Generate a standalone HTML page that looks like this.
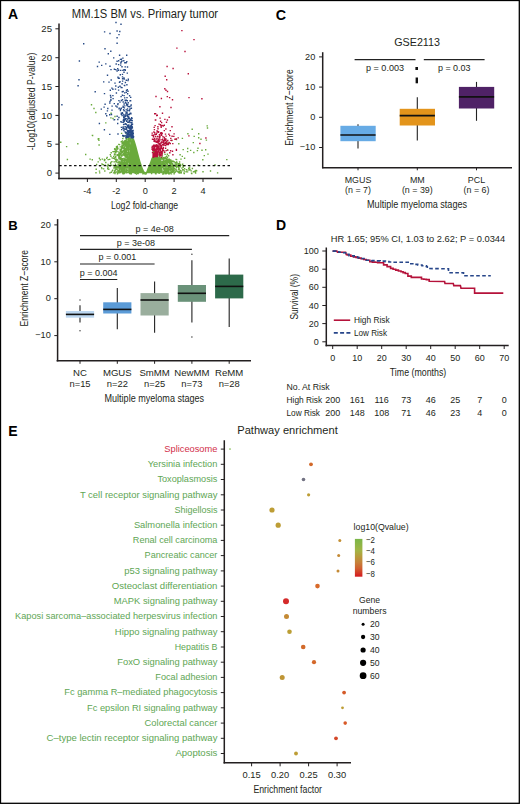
<!DOCTYPE html>
<html><head><meta charset="utf-8"><style>
html,body{margin:0;padding:0;background:#fff;}
#fig{position:relative;width:520px;height:804px;overflow:hidden;background:#fff;}
svg{display:block;font-family:"Liberation Sans", sans-serif;}
</style></head><body><div id="fig">
<svg width="520" height="804" viewBox="0 0 520 804" fill="#231f20">
<rect x="0.5" y="0.5" width="518.8" height="802.8" fill="none" stroke="#000" stroke-width="1.3"/>
<text x="7.9" y="19.4" font-size="14" fill="#000" font-weight="bold">A</text>
<text x="71.8" y="17.7" font-size="12" textLength="146.3" lengthAdjust="spacingAndGlyphs">MM.1S BM vs. Primary tumor</text>
<g id="volc">
<polygon fill="#6aaa3c" points="132.7,137.7 134.3,139.5 135.6,143.5 136.6,147 138.5,154.2 140.4,161.2 142.7,168.1 144.2,171.2 145.3,172.3 146.4,171.5 147.3,168.8 149.6,163.5 151.5,158.1 152.3,157.0 158,156.9 161,157.4 162,164 163,173.2 128,173.2 128.5,160 129.5,148 130.8,141"/>
<polygon fill="#b80f3a" points="152.3,157.2 152.5,153 153.2,151 155,150.2 157.5,150.5 158.5,153 158.2,157.2"/>
<path fill="#6aaa3c" d="M129.0 137.6h1.4v1.4h-1.4zM123.4 147.5h1.4v1.4h-1.4zM166.4 142.3h1.4v1.4h-1.4zM170.4 159.7h1.4v1.4h-1.4zM131.2 133.5h1.4v1.4h-1.4zM120.6 166.1h1.4v1.4h-1.4zM129.8 140.7h1.4v1.4h-1.4zM175.4 164.9h1.4v1.4h-1.4zM124.6 141.4h1.4v1.4h-1.4zM119.9 148.9h1.4v1.4h-1.4zM165.6 169.3h1.4v1.4h-1.4zM161.6 164.2h1.4v1.4h-1.4zM126.3 163.2h1.4v1.4h-1.4zM117.8 171.9h1.4v1.4h-1.4zM165.7 168.8h1.4v1.4h-1.4zM119.1 162.5h1.4v1.4h-1.4zM113.0 155.7h1.4v1.4h-1.4zM125.9 137.2h1.4v1.4h-1.4zM120.0 158.9h1.4v1.4h-1.4zM163.6 168.6h1.4v1.4h-1.4zM122.4 171.9h1.4v1.4h-1.4zM114.8 156.5h1.4v1.4h-1.4zM125.8 150.6h1.4v1.4h-1.4zM174.2 168.4h1.4v1.4h-1.4zM124.9 171.3h1.4v1.4h-1.4zM177.1 171.1h1.4v1.4h-1.4zM130.1 138.4h1.4v1.4h-1.4zM121.7 171.5h1.4v1.4h-1.4zM120.3 161.4h1.4v1.4h-1.4zM167.8 158.7h1.4v1.4h-1.4zM126.7 171.3h1.4v1.4h-1.4zM161.1 158.2h1.4v1.4h-1.4zM122.1 165.6h1.4v1.4h-1.4zM120.8 154.6h1.4v1.4h-1.4zM173.8 171.8h1.4v1.4h-1.4zM129.6 141.3h1.4v1.4h-1.4zM172.2 160.4h1.4v1.4h-1.4zM113.2 157.5h1.4v1.4h-1.4zM172.7 166.0h1.4v1.4h-1.4zM123.1 161.4h1.4v1.4h-1.4zM190.8 172.4h1.4v1.4h-1.4zM95.5 168.6h1.4v1.4h-1.4zM182.4 166.7h1.4v1.4h-1.4zM124.8 154.3h1.4v1.4h-1.4zM121.0 147.1h1.4v1.4h-1.4zM125.9 151.4h1.4v1.4h-1.4zM120.6 141.1h1.4v1.4h-1.4zM162.6 159.2h1.4v1.4h-1.4zM179.5 170.4h1.4v1.4h-1.4zM124.6 166.1h1.4v1.4h-1.4zM125.5 155.9h1.4v1.4h-1.4zM167.4 159.9h1.4v1.4h-1.4zM125.9 149.0h1.4v1.4h-1.4zM117.5 162.1h1.4v1.4h-1.4zM171.9 161.1h1.4v1.4h-1.4zM175.0 165.6h1.4v1.4h-1.4zM127.2 161.9h1.4v1.4h-1.4zM126.8 149.3h1.4v1.4h-1.4zM168.2 168.9h1.4v1.4h-1.4zM121.9 167.0h1.4v1.4h-1.4zM179.8 169.7h1.4v1.4h-1.4zM120.2 164.0h1.4v1.4h-1.4zM125.4 156.1h1.4v1.4h-1.4zM120.9 148.6h1.4v1.4h-1.4zM121.5 166.6h1.4v1.4h-1.4zM131.4 137.2h1.4v1.4h-1.4zM169.7 161.0h1.4v1.4h-1.4zM118.6 165.6h1.4v1.4h-1.4zM123.8 144.1h1.4v1.4h-1.4zM124.0 141.5h1.4v1.4h-1.4zM160.6 157.0h1.4v1.4h-1.4zM127.1 141.5h1.4v1.4h-1.4zM123.5 172.8h1.4v1.4h-1.4zM170.2 167.0h1.4v1.4h-1.4zM101.2 167.9h1.4v1.4h-1.4zM120.8 158.5h1.4v1.4h-1.4zM169.7 165.2h1.4v1.4h-1.4zM165.5 171.6h1.4v1.4h-1.4zM168.3 171.6h1.4v1.4h-1.4zM131.4 137.8h1.4v1.4h-1.4zM115.3 150.3h1.4v1.4h-1.4zM121.4 163.7h1.4v1.4h-1.4zM127.2 140.8h1.4v1.4h-1.4zM126.0 147.3h1.4v1.4h-1.4zM127.1 158.1h1.4v1.4h-1.4zM101.3 163.3h1.4v1.4h-1.4zM182.4 165.1h1.4v1.4h-1.4zM171.8 170.6h1.4v1.4h-1.4zM129.4 139.1h1.4v1.4h-1.4zM128.4 146.8h1.4v1.4h-1.4zM171.9 165.7h1.4v1.4h-1.4zM110.2 161.7h1.4v1.4h-1.4zM125.5 145.7h1.4v1.4h-1.4zM102.6 163.9h1.4v1.4h-1.4zM116.7 146.9h1.4v1.4h-1.4zM170.9 167.9h1.4v1.4h-1.4zM179.3 166.0h1.4v1.4h-1.4zM124.2 160.2h1.4v1.4h-1.4zM123.0 164.7h1.4v1.4h-1.4zM165.1 172.8h1.4v1.4h-1.4zM122.2 142.1h1.4v1.4h-1.4zM114.1 148.1h1.4v1.4h-1.4zM168.3 167.6h1.4v1.4h-1.4zM173.5 170.1h1.4v1.4h-1.4zM119.5 150.8h1.4v1.4h-1.4zM129.7 135.2h1.4v1.4h-1.4zM175.7 163.8h1.4v1.4h-1.4zM123.1 145.2h1.4v1.4h-1.4zM99.0 172.2h1.4v1.4h-1.4zM116.0 149.4h1.4v1.4h-1.4zM119.2 157.0h1.4v1.4h-1.4zM120.7 169.5h1.4v1.4h-1.4zM116.8 146.9h1.4v1.4h-1.4zM117.4 166.3h1.4v1.4h-1.4zM173.0 167.4h1.4v1.4h-1.4zM124.9 148.4h1.4v1.4h-1.4zM164.9 170.1h1.4v1.4h-1.4zM161.4 163.6h1.4v1.4h-1.4zM122.0 142.3h1.4v1.4h-1.4zM119.3 167.4h1.4v1.4h-1.4zM126.2 167.7h1.4v1.4h-1.4zM121.9 164.7h1.4v1.4h-1.4zM124.7 141.1h1.4v1.4h-1.4zM114.8 154.2h1.4v1.4h-1.4zM163.7 160.2h1.4v1.4h-1.4zM124.5 168.7h1.4v1.4h-1.4zM131.8 137.2h1.4v1.4h-1.4zM125.5 171.7h1.4v1.4h-1.4zM121.5 160.7h1.4v1.4h-1.4zM176.5 165.2h1.4v1.4h-1.4zM169.3 168.8h1.4v1.4h-1.4zM154.8 172.8h1.4v1.4h-1.4zM166.1 155.5h1.4v1.4h-1.4zM124.4 154.2h1.4v1.4h-1.4zM177.9 162.9h1.4v1.4h-1.4zM119.9 163.7h1.4v1.4h-1.4zM177.7 169.2h1.4v1.4h-1.4zM168.4 165.9h1.4v1.4h-1.4zM161.5 165.2h1.4v1.4h-1.4zM129.7 172.7h1.4v1.4h-1.4zM111.2 160.9h1.4v1.4h-1.4zM120.5 146.2h1.4v1.4h-1.4zM165.9 158.0h1.4v1.4h-1.4zM117.2 170.4h1.4v1.4h-1.4zM161.7 165.8h1.4v1.4h-1.4zM124.3 148.0h1.4v1.4h-1.4zM118.9 143.9h1.4v1.4h-1.4zM180.6 171.9h1.4v1.4h-1.4zM119.9 171.8h1.4v1.4h-1.4zM166.6 158.9h1.4v1.4h-1.4zM126.0 148.5h1.4v1.4h-1.4zM166.1 159.1h1.4v1.4h-1.4zM123.5 147.3h1.4v1.4h-1.4zM168.6 158.6h1.4v1.4h-1.4zM113.8 166.3h1.4v1.4h-1.4zM121.2 170.9h1.4v1.4h-1.4zM166.0 164.9h1.4v1.4h-1.4zM119.4 165.8h1.4v1.4h-1.4zM183.6 172.8h1.4v1.4h-1.4zM128.4 148.8h1.4v1.4h-1.4zM124.3 158.2h1.4v1.4h-1.4zM170.0 169.2h1.4v1.4h-1.4zM127.2 159.1h1.4v1.4h-1.4zM117.5 172.1h1.4v1.4h-1.4zM110.6 171.5h1.4v1.4h-1.4zM172.3 165.0h1.4v1.4h-1.4zM119.3 153.0h1.4v1.4h-1.4zM168.3 169.3h1.4v1.4h-1.4zM165.9 161.6h1.4v1.4h-1.4zM125.3 154.6h1.4v1.4h-1.4zM186.9 171.2h1.4v1.4h-1.4zM169.2 164.3h1.4v1.4h-1.4zM169.2 159.5h1.4v1.4h-1.4zM127.9 147.1h1.4v1.4h-1.4zM120.3 157.0h1.4v1.4h-1.4zM164.1 169.4h1.4v1.4h-1.4zM163.9 165.3h1.4v1.4h-1.4zM103.7 159.8h1.4v1.4h-1.4zM118.4 165.5h1.4v1.4h-1.4zM130.7 138.2h1.4v1.4h-1.4zM118.6 169.6h1.4v1.4h-1.4zM162.7 171.1h1.4v1.4h-1.4zM125.6 172.0h1.4v1.4h-1.4zM178.9 161.3h1.4v1.4h-1.4zM127.4 155.2h1.4v1.4h-1.4zM166.4 165.9h1.4v1.4h-1.4zM117.4 165.9h1.4v1.4h-1.4zM120.8 159.5h1.4v1.4h-1.4zM124.5 170.5h1.4v1.4h-1.4zM164.8 172.3h1.4v1.4h-1.4zM184.2 164.9h1.4v1.4h-1.4zM166.2 172.0h1.4v1.4h-1.4zM122.2 163.6h1.4v1.4h-1.4zM124.2 148.2h1.4v1.4h-1.4zM126.5 146.4h1.4v1.4h-1.4zM122.9 170.0h1.4v1.4h-1.4zM150.9 172.8h1.4v1.4h-1.4zM145.4 173.0h1.4v1.4h-1.4zM121.0 166.8h1.4v1.4h-1.4zM122.9 170.2h1.4v1.4h-1.4zM118.2 160.5h1.4v1.4h-1.4zM124.5 167.5h1.4v1.4h-1.4zM178.2 171.3h1.4v1.4h-1.4zM172.4 166.7h1.4v1.4h-1.4zM175.9 158.9h1.4v1.4h-1.4zM130.8 136.7h1.4v1.4h-1.4zM123.8 164.5h1.4v1.4h-1.4zM122.6 135.9h1.4v1.4h-1.4zM165.9 161.1h1.4v1.4h-1.4zM122.5 152.2h1.4v1.4h-1.4zM125.5 142.8h1.4v1.4h-1.4zM119.6 165.5h1.4v1.4h-1.4zM121.0 164.4h1.4v1.4h-1.4zM127.4 146.8h1.4v1.4h-1.4zM126.0 142.5h1.4v1.4h-1.4zM100.9 166.9h1.4v1.4h-1.4zM164.1 164.0h1.4v1.4h-1.4zM167.8 170.0h1.4v1.4h-1.4zM126.3 151.9h1.4v1.4h-1.4zM168.9 173.2h1.4v1.4h-1.4zM130.6 131.8h1.4v1.4h-1.4zM165.9 155.7h1.4v1.4h-1.4zM118.2 155.5h1.4v1.4h-1.4zM125.0 163.3h1.4v1.4h-1.4zM163.1 173.0h1.4v1.4h-1.4zM116.9 147.3h1.4v1.4h-1.4zM118.2 153.0h1.4v1.4h-1.4zM123.0 163.7h1.4v1.4h-1.4zM123.1 162.3h1.4v1.4h-1.4zM129.2 143.2h1.4v1.4h-1.4zM163.2 167.5h1.4v1.4h-1.4zM173.6 167.9h1.4v1.4h-1.4zM164.6 168.7h1.4v1.4h-1.4zM127.8 152.0h1.4v1.4h-1.4zM122.7 150.0h1.4v1.4h-1.4zM115.8 166.7h1.4v1.4h-1.4zM164.1 165.5h1.4v1.4h-1.4zM136.7 172.7h1.4v1.4h-1.4zM127.7 140.0h1.4v1.4h-1.4zM114.1 151.1h1.4v1.4h-1.4zM167.6 161.9h1.4v1.4h-1.4zM127.1 145.7h1.4v1.4h-1.4zM121.4 168.4h1.4v1.4h-1.4zM123.3 162.8h1.4v1.4h-1.4zM128.6 139.6h1.4v1.4h-1.4zM121.7 140.2h1.4v1.4h-1.4zM118.6 155.6h1.4v1.4h-1.4zM126.3 153.4h1.4v1.4h-1.4zM143.3 172.6h1.4v1.4h-1.4zM107.9 164.7h1.4v1.4h-1.4zM171.1 167.5h1.4v1.4h-1.4zM125.8 154.2h1.4v1.4h-1.4zM167.2 165.5h1.4v1.4h-1.4zM126.5 157.3h1.4v1.4h-1.4zM122.2 164.2h1.4v1.4h-1.4zM179.4 154.1h1.4v1.4h-1.4zM124.4 143.1h1.4v1.4h-1.4zM128.1 137.3h1.4v1.4h-1.4zM121.9 168.5h1.4v1.4h-1.4zM181.0 170.4h1.4v1.4h-1.4zM122.5 171.6h1.4v1.4h-1.4zM120.1 150.1h1.4v1.4h-1.4zM125.6 162.2h1.4v1.4h-1.4zM120.5 154.8h1.4v1.4h-1.4zM164.7 170.5h1.4v1.4h-1.4zM177.7 166.7h1.4v1.4h-1.4zM162.1 166.9h1.4v1.4h-1.4zM166.7 149.3h1.4v1.4h-1.4zM166.2 172.5h1.4v1.4h-1.4zM129.0 144.6h1.4v1.4h-1.4zM129.6 140.7h1.4v1.4h-1.4zM125.5 156.9h1.4v1.4h-1.4zM126.9 166.9h1.4v1.4h-1.4zM172.5 170.5h1.4v1.4h-1.4zM120.5 152.7h1.4v1.4h-1.4zM125.9 154.0h1.4v1.4h-1.4zM165.8 164.3h1.4v1.4h-1.4zM116.2 147.3h1.4v1.4h-1.4zM122.5 158.2h1.4v1.4h-1.4zM166.7 153.5h1.4v1.4h-1.4zM158.6 155.7h1.4v1.4h-1.4zM123.3 169.9h1.4v1.4h-1.4zM122.2 168.8h1.4v1.4h-1.4zM126.9 166.3h1.4v1.4h-1.4zM188.2 169.3h1.4v1.4h-1.4zM114.8 168.2h1.4v1.4h-1.4zM162.6 156.9h1.4v1.4h-1.4zM118.7 164.7h1.4v1.4h-1.4zM167.8 165.8h1.4v1.4h-1.4zM131.4 137.3h1.4v1.4h-1.4zM170.4 168.1h1.4v1.4h-1.4zM123.2 165.1h1.4v1.4h-1.4zM168.6 162.4h1.4v1.4h-1.4zM122.4 153.4h1.4v1.4h-1.4zM128.1 153.7h1.4v1.4h-1.4zM124.4 150.5h1.4v1.4h-1.4zM164.3 168.1h1.4v1.4h-1.4zM113.9 148.4h1.4v1.4h-1.4zM182.5 165.3h1.4v1.4h-1.4zM127.4 167.0h1.4v1.4h-1.4zM116.0 168.9h1.4v1.4h-1.4zM124.1 169.5h1.4v1.4h-1.4zM126.2 161.2h1.4v1.4h-1.4zM164.1 162.2h1.4v1.4h-1.4zM112.3 150.9h1.4v1.4h-1.4zM119.3 165.9h1.4v1.4h-1.4zM119.6 170.4h1.4v1.4h-1.4zM165.2 160.3h1.4v1.4h-1.4zM127.8 154.1h1.4v1.4h-1.4zM119.9 171.4h1.4v1.4h-1.4zM123.1 142.8h1.4v1.4h-1.4zM125.6 165.7h1.4v1.4h-1.4zM172.2 160.3h1.4v1.4h-1.4zM127.5 146.2h1.4v1.4h-1.4zM120.5 160.5h1.4v1.4h-1.4zM105.1 161.8h1.4v1.4h-1.4zM95.9 163.8h1.4v1.4h-1.4zM125.6 153.4h1.4v1.4h-1.4zM135.8 173.3h1.4v1.4h-1.4zM111.4 157.2h1.4v1.4h-1.4zM168.8 160.2h1.4v1.4h-1.4zM163.4 172.0h1.4v1.4h-1.4zM117.7 155.0h1.4v1.4h-1.4zM130.6 173.1h1.4v1.4h-1.4zM107.0 168.1h1.4v1.4h-1.4zM168.9 162.6h1.4v1.4h-1.4zM170.5 162.7h1.4v1.4h-1.4zM179.4 169.7h1.4v1.4h-1.4zM121.4 143.3h1.4v1.4h-1.4zM162.9 160.2h1.4v1.4h-1.4zM115.7 158.6h1.4v1.4h-1.4zM121.4 170.4h1.4v1.4h-1.4zM124.7 155.6h1.4v1.4h-1.4zM127.1 161.7h1.4v1.4h-1.4zM158.3 147.6h1.4v1.4h-1.4zM157.6 146.2h1.4v1.4h-1.4zM125.7 159.8h1.4v1.4h-1.4zM162.2 158.3h1.4v1.4h-1.4zM120.3 162.4h1.4v1.4h-1.4zM165.1 160.1h1.4v1.4h-1.4zM127.1 141.9h1.4v1.4h-1.4zM179.1 171.8h1.4v1.4h-1.4zM164.8 163.8h1.4v1.4h-1.4zM126.0 145.1h1.4v1.4h-1.4zM118.7 156.4h1.4v1.4h-1.4zM182.7 165.7h1.4v1.4h-1.4zM126.9 146.1h1.4v1.4h-1.4zM123.3 166.3h1.4v1.4h-1.4zM171.5 165.8h1.4v1.4h-1.4zM126.1 168.8h1.4v1.4h-1.4zM163.5 171.0h1.4v1.4h-1.4zM114.4 158.6h1.4v1.4h-1.4zM162.8 162.6h1.4v1.4h-1.4zM120.8 169.2h1.4v1.4h-1.4zM113.9 153.2h1.4v1.4h-1.4zM163.6 157.3h1.4v1.4h-1.4zM183.9 168.1h1.4v1.4h-1.4zM123.5 146.2h1.4v1.4h-1.4zM163.4 169.7h1.4v1.4h-1.4zM119.6 146.2h1.4v1.4h-1.4zM120.3 153.6h1.4v1.4h-1.4zM163.2 157.3h1.4v1.4h-1.4zM126.1 163.3h1.4v1.4h-1.4zM118.6 156.8h1.4v1.4h-1.4zM168.9 169.0h1.4v1.4h-1.4zM173.4 172.7h1.4v1.4h-1.4zM118.6 172.1h1.4v1.4h-1.4zM123.3 166.2h1.4v1.4h-1.4zM126.5 154.0h1.4v1.4h-1.4zM117.5 163.8h1.4v1.4h-1.4zM161.5 162.4h1.4v1.4h-1.4zM116.6 159.3h1.4v1.4h-1.4zM126.3 156.7h1.4v1.4h-1.4zM171.4 168.5h1.4v1.4h-1.4zM114.8 171.4h1.4v1.4h-1.4zM168.2 170.1h1.4v1.4h-1.4zM123.5 160.4h1.4v1.4h-1.4zM123.4 169.6h1.4v1.4h-1.4zM125.7 139.4h1.4v1.4h-1.4zM126.9 171.5h1.4v1.4h-1.4zM122.0 168.0h1.4v1.4h-1.4zM122.8 170.6h1.4v1.4h-1.4zM123.1 143.8h1.4v1.4h-1.4zM170.8 168.9h1.4v1.4h-1.4zM121.1 168.7h1.4v1.4h-1.4zM113.9 157.2h1.4v1.4h-1.4zM169.3 162.2h1.4v1.4h-1.4zM167.9 173.2h1.4v1.4h-1.4zM123.7 147.9h1.4v1.4h-1.4zM127.2 155.7h1.4v1.4h-1.4zM128.6 146.1h1.4v1.4h-1.4zM121.8 165.3h1.4v1.4h-1.4zM125.4 162.4h1.4v1.4h-1.4zM113.6 151.1h1.4v1.4h-1.4zM177.2 164.2h1.4v1.4h-1.4zM170.9 165.2h1.4v1.4h-1.4zM162.3 165.4h1.4v1.4h-1.4zM173.0 164.4h1.4v1.4h-1.4zM117.9 163.7h1.4v1.4h-1.4zM122.2 143.4h1.4v1.4h-1.4zM98.7 157.5h1.4v1.4h-1.4zM121.9 172.4h1.4v1.4h-1.4zM116.8 147.5h1.4v1.4h-1.4zM161.1 157.3h1.4v1.4h-1.4zM107.5 158.9h1.4v1.4h-1.4zM103.0 168.2h1.4v1.4h-1.4zM168.1 172.2h1.4v1.4h-1.4zM164.6 172.0h1.4v1.4h-1.4zM125.6 159.2h1.4v1.4h-1.4zM117.1 166.7h1.4v1.4h-1.4zM122.0 163.0h1.4v1.4h-1.4zM122.7 164.9h1.4v1.4h-1.4zM119.4 161.7h1.4v1.4h-1.4zM120.0 164.7h1.4v1.4h-1.4zM124.5 154.9h1.4v1.4h-1.4zM121.2 168.9h1.4v1.4h-1.4zM120.9 151.8h1.4v1.4h-1.4zM125.6 151.6h1.4v1.4h-1.4zM161.6 164.8h1.4v1.4h-1.4zM119.6 163.7h1.4v1.4h-1.4zM121.6 141.8h1.4v1.4h-1.4zM126.0 148.8h1.4v1.4h-1.4zM128.6 148.8h1.4v1.4h-1.4zM183.6 170.3h1.4v1.4h-1.4zM115.1 148.8h1.4v1.4h-1.4zM163.8 164.6h1.4v1.4h-1.4zM117.2 150.9h1.4v1.4h-1.4zM121.5 145.9h1.4v1.4h-1.4zM122.2 168.9h1.4v1.4h-1.4zM175.7 167.0h1.4v1.4h-1.4zM154.8 172.9h1.4v1.4h-1.4zM166.3 171.1h1.4v1.4h-1.4zM162.0 160.7h1.4v1.4h-1.4zM123.9 150.4h1.4v1.4h-1.4zM129.0 145.9h1.4v1.4h-1.4zM114.3 149.2h1.4v1.4h-1.4zM121.7 150.8h1.4v1.4h-1.4zM166.4 161.0h1.4v1.4h-1.4zM123.3 150.6h1.4v1.4h-1.4zM168.7 161.1h1.4v1.4h-1.4zM168.1 169.5h1.4v1.4h-1.4zM168.3 160.2h1.4v1.4h-1.4zM130.3 139.4h1.4v1.4h-1.4zM162.1 158.1h1.4v1.4h-1.4zM163.3 171.7h1.4v1.4h-1.4zM172.1 170.2h1.4v1.4h-1.4zM117.0 168.3h1.4v1.4h-1.4zM127.3 135.3h1.4v1.4h-1.4zM165.2 167.8h1.4v1.4h-1.4zM165.3 173.0h1.4v1.4h-1.4zM104.1 170.3h1.4v1.4h-1.4zM163.6 165.3h1.4v1.4h-1.4zM170.4 170.5h1.4v1.4h-1.4zM115.3 151.2h1.4v1.4h-1.4zM173.4 173.1h1.4v1.4h-1.4zM124.8 159.2h1.4v1.4h-1.4zM113.4 161.2h1.4v1.4h-1.4zM121.8 151.6h1.4v1.4h-1.4zM124.5 150.8h1.4v1.4h-1.4zM161.6 155.2h1.4v1.4h-1.4zM123.9 172.0h1.4v1.4h-1.4zM186.3 169.4h1.4v1.4h-1.4zM128.7 139.4h1.4v1.4h-1.4zM162.8 171.0h1.4v1.4h-1.4zM114.9 164.8h1.4v1.4h-1.4zM115.2 159.4h1.4v1.4h-1.4zM126.3 160.4h1.4v1.4h-1.4zM167.5 167.0h1.4v1.4h-1.4zM171.9 163.1h1.4v1.4h-1.4zM98.8 170.4h1.4v1.4h-1.4zM129.4 141.1h1.4v1.4h-1.4zM126.2 164.8h1.4v1.4h-1.4zM164.7 158.0h1.4v1.4h-1.4zM126.7 145.8h1.4v1.4h-1.4zM169.2 164.8h1.4v1.4h-1.4zM175.4 162.2h1.4v1.4h-1.4zM115.5 167.9h1.4v1.4h-1.4zM123.5 154.7h1.4v1.4h-1.4zM124.4 140.0h1.4v1.4h-1.4zM125.0 149.8h1.4v1.4h-1.4zM125.8 155.7h1.4v1.4h-1.4zM125.5 137.7h1.4v1.4h-1.4zM167.5 171.7h1.4v1.4h-1.4zM170.7 167.5h1.4v1.4h-1.4zM123.6 167.5h1.4v1.4h-1.4zM172.0 163.5h1.4v1.4h-1.4zM125.3 156.7h1.4v1.4h-1.4zM127.5 144.7h1.4v1.4h-1.4zM124.3 154.0h1.4v1.4h-1.4zM125.1 148.2h1.4v1.4h-1.4zM126.4 166.8h1.4v1.4h-1.4zM114.7 151.1h1.4v1.4h-1.4zM120.1 168.3h1.4v1.4h-1.4zM120.2 171.1h1.4v1.4h-1.4zM130.1 173.1h1.4v1.4h-1.4zM124.8 164.5h1.4v1.4h-1.4zM128.3 153.3h1.4v1.4h-1.4zM121.4 147.5h1.4v1.4h-1.4zM191.1 172.9h1.4v1.4h-1.4zM123.3 147.9h1.4v1.4h-1.4zM192.7 171.2h1.4v1.4h-1.4zM126.1 138.9h1.4v1.4h-1.4zM197.5 164.6h1.4v1.4h-1.4zM120.3 152.3h1.4v1.4h-1.4zM126.2 144.8h1.4v1.4h-1.4zM126.2 144.7h1.4v1.4h-1.4zM125.3 152.2h1.4v1.4h-1.4zM125.4 171.4h1.4v1.4h-1.4zM125.6 170.8h1.4v1.4h-1.4zM164.1 165.4h1.4v1.4h-1.4zM99.3 165.0h1.4v1.4h-1.4zM124.3 142.8h1.4v1.4h-1.4zM179.5 165.4h1.4v1.4h-1.4zM127.2 165.6h1.4v1.4h-1.4zM142.3 173.2h1.4v1.4h-1.4zM118.1 143.7h1.4v1.4h-1.4zM162.6 161.9h1.4v1.4h-1.4zM167.8 161.4h1.4v1.4h-1.4zM114.8 163.6h1.4v1.4h-1.4zM102.1 163.9h1.4v1.4h-1.4zM123.3 172.1h1.4v1.4h-1.4zM164.4 165.9h1.4v1.4h-1.4zM122.0 147.0h1.4v1.4h-1.4zM129.9 139.4h1.4v1.4h-1.4zM145.5 172.8h1.4v1.4h-1.4zM165.0 168.0h1.4v1.4h-1.4zM120.1 156.5h1.4v1.4h-1.4zM112.8 172.2h1.4v1.4h-1.4zM129.8 141.4h1.4v1.4h-1.4zM130.0 134.1h1.4v1.4h-1.4zM127.4 140.3h1.4v1.4h-1.4zM163.5 162.3h1.4v1.4h-1.4zM127.0 145.3h1.4v1.4h-1.4zM127.9 156.9h1.4v1.4h-1.4zM122.7 162.4h1.4v1.4h-1.4zM178.9 171.1h1.4v1.4h-1.4zM120.0 170.4h1.4v1.4h-1.4zM124.5 156.0h1.4v1.4h-1.4zM194.9 172.4h1.4v1.4h-1.4zM163.0 157.4h1.4v1.4h-1.4zM116.1 147.0h1.4v1.4h-1.4zM183.9 157.5h1.4v1.4h-1.4zM179.0 163.4h1.4v1.4h-1.4zM122.9 164.8h1.4v1.4h-1.4zM117.2 170.1h1.4v1.4h-1.4zM121.7 145.8h1.4v1.4h-1.4zM175.4 158.7h1.4v1.4h-1.4zM178.5 172.3h1.4v1.4h-1.4zM166.0 168.0h1.4v1.4h-1.4zM172.1 164.6h1.4v1.4h-1.4zM119.6 166.3h1.4v1.4h-1.4zM120.9 154.5h1.4v1.4h-1.4zM126.4 141.6h1.4v1.4h-1.4zM127.4 148.5h1.4v1.4h-1.4zM125.7 161.5h1.4v1.4h-1.4zM123.0 152.7h1.4v1.4h-1.4zM126.7 149.3h1.4v1.4h-1.4zM122.5 171.0h1.4v1.4h-1.4zM152.9 151.0h1.4v1.4h-1.4zM202.3 171.0h1.4v1.4h-1.4zM163.0 164.3h1.4v1.4h-1.4zM174.1 168.2h1.4v1.4h-1.4zM127.7 140.2h1.4v1.4h-1.4zM124.0 151.8h1.4v1.4h-1.4zM125.9 138.1h1.4v1.4h-1.4zM129.0 172.9h1.4v1.4h-1.4zM162.1 173.3h1.4v1.4h-1.4zM163.1 157.1h1.4v1.4h-1.4zM125.5 151.8h1.4v1.4h-1.4zM161.1 161.1h1.4v1.4h-1.4zM120.6 161.3h1.4v1.4h-1.4zM126.5 145.3h1.4v1.4h-1.4zM122.4 163.2h1.4v1.4h-1.4zM122.2 162.3h1.4v1.4h-1.4zM126.1 167.0h1.4v1.4h-1.4zM124.6 162.6h1.4v1.4h-1.4zM165.6 162.7h1.4v1.4h-1.4zM124.3 153.7h1.4v1.4h-1.4zM123.5 149.0h1.4v1.4h-1.4zM122.1 158.4h1.4v1.4h-1.4zM158.4 172.6h1.4v1.4h-1.4zM166.4 162.1h1.4v1.4h-1.4zM125.0 148.8h1.4v1.4h-1.4zM170.8 165.4h1.4v1.4h-1.4zM120.9 148.3h1.4v1.4h-1.4zM168.6 164.7h1.4v1.4h-1.4zM160.9 158.4h1.4v1.4h-1.4zM115.1 148.5h1.4v1.4h-1.4zM128.1 139.2h1.4v1.4h-1.4zM179.8 163.8h1.4v1.4h-1.4zM125.6 140.9h1.4v1.4h-1.4zM129.7 138.5h1.4v1.4h-1.4zM128.0 152.4h1.4v1.4h-1.4zM119.8 158.1h1.4v1.4h-1.4zM120.3 166.7h1.4v1.4h-1.4zM177.8 165.8h1.4v1.4h-1.4zM110.5 152.1h1.4v1.4h-1.4zM125.3 159.1h1.4v1.4h-1.4zM128.6 143.7h1.4v1.4h-1.4zM126.0 162.7h1.4v1.4h-1.4zM176.4 165.9h1.4v1.4h-1.4zM122.5 167.1h1.4v1.4h-1.4zM166.6 165.0h1.4v1.4h-1.4zM134.5 172.6h1.4v1.4h-1.4zM170.7 162.1h1.4v1.4h-1.4zM173.3 166.0h1.4v1.4h-1.4zM112.0 169.6h1.4v1.4h-1.4zM126.0 169.3h1.4v1.4h-1.4zM169.3 168.4h1.4v1.4h-1.4zM128.4 142.4h1.4v1.4h-1.4zM95.3 172.1h1.4v1.4h-1.4zM166.3 168.5h1.4v1.4h-1.4zM125.1 132.3h1.4v1.4h-1.4zM166.8 161.6h1.4v1.4h-1.4zM127.6 137.1h1.4v1.4h-1.4zM175.5 165.0h1.4v1.4h-1.4zM127.5 149.3h1.4v1.4h-1.4zM109.5 165.1h1.4v1.4h-1.4zM123.8 161.7h1.4v1.4h-1.4zM115.9 164.9h1.4v1.4h-1.4zM167.0 170.8h1.4v1.4h-1.4zM120.8 170.4h1.4v1.4h-1.4zM128.4 141.9h1.4v1.4h-1.4zM116.2 171.3h1.4v1.4h-1.4zM124.8 161.8h1.4v1.4h-1.4zM126.4 143.2h1.4v1.4h-1.4zM172.8 168.1h1.4v1.4h-1.4zM123.4 154.1h1.4v1.4h-1.4zM121.9 167.3h1.4v1.4h-1.4zM128.5 140.6h1.4v1.4h-1.4zM160.6 158.4h1.4v1.4h-1.4zM120.2 165.1h1.4v1.4h-1.4zM125.3 150.3h1.4v1.4h-1.4zM125.2 165.2h1.4v1.4h-1.4zM166.7 161.2h1.4v1.4h-1.4zM123.6 141.7h1.4v1.4h-1.4zM125.4 136.6h1.4v1.4h-1.4zM121.0 150.3h1.4v1.4h-1.4zM164.5 160.1h1.4v1.4h-1.4zM123.0 170.8h1.4v1.4h-1.4zM126.7 153.6h1.4v1.4h-1.4zM127.8 145.7h1.4v1.4h-1.4zM126.2 164.2h1.4v1.4h-1.4zM125.7 164.3h1.4v1.4h-1.4zM108.1 168.6h1.4v1.4h-1.4zM171.6 170.4h1.4v1.4h-1.4zM109.6 153.9h1.4v1.4h-1.4zM176.0 170.2h1.4v1.4h-1.4zM120.0 157.1h1.4v1.4h-1.4zM125.3 164.9h1.4v1.4h-1.4zM123.8 140.6h1.4v1.4h-1.4zM118.1 171.7h1.4v1.4h-1.4zM169.3 165.9h1.4v1.4h-1.4zM123.8 154.0h1.4v1.4h-1.4zM113.3 167.3h1.4v1.4h-1.4zM178.3 163.7h1.4v1.4h-1.4zM166.2 165.1h1.4v1.4h-1.4zM110.4 164.6h1.4v1.4h-1.4zM170.4 163.6h1.4v1.4h-1.4zM171.0 165.3h1.4v1.4h-1.4zM127.0 147.8h1.4v1.4h-1.4zM126.3 141.1h1.4v1.4h-1.4zM123.1 153.1h1.4v1.4h-1.4zM164.0 157.6h1.4v1.4h-1.4zM121.2 155.4h1.4v1.4h-1.4zM121.1 167.1h1.4v1.4h-1.4zM167.3 169.4h1.4v1.4h-1.4zM126.1 160.6h1.4v1.4h-1.4zM126.7 169.5h1.4v1.4h-1.4zM126.9 171.8h1.4v1.4h-1.4zM168.6 161.3h1.4v1.4h-1.4zM127.7 159.6h1.4v1.4h-1.4zM123.0 147.9h1.4v1.4h-1.4zM166.2 164.4h1.4v1.4h-1.4zM164.7 156.5h1.4v1.4h-1.4zM119.4 148.4h1.4v1.4h-1.4zM185.4 171.0h1.4v1.4h-1.4zM107.4 163.7h1.4v1.4h-1.4zM173.3 171.7h1.4v1.4h-1.4zM126.1 146.1h1.4v1.4h-1.4zM122.9 152.3h1.4v1.4h-1.4zM124.4 163.9h1.4v1.4h-1.4zM167.4 170.1h1.4v1.4h-1.4zM188.9 166.4h1.4v1.4h-1.4zM124.9 163.4h1.4v1.4h-1.4zM125.5 156.6h1.4v1.4h-1.4zM127.1 148.7h1.4v1.4h-1.4zM165.3 161.2h1.4v1.4h-1.4zM114.0 170.3h1.4v1.4h-1.4zM174.4 163.3h1.4v1.4h-1.4zM178.5 168.8h1.4v1.4h-1.4zM170.6 165.8h1.4v1.4h-1.4zM126.5 146.6h1.4v1.4h-1.4zM122.7 168.8h1.4v1.4h-1.4zM125.2 147.4h1.4v1.4h-1.4zM127.8 138.6h1.4v1.4h-1.4zM127.2 143.9h1.4v1.4h-1.4zM145.3 173.0h1.4v1.4h-1.4zM164.4 166.1h1.4v1.4h-1.4zM127.6 158.3h1.4v1.4h-1.4zM167.2 159.6h1.4v1.4h-1.4zM123.3 157.8h1.4v1.4h-1.4zM137.5 172.8h1.4v1.4h-1.4zM123.1 159.8h1.4v1.4h-1.4zM128.4 147.5h1.4v1.4h-1.4zM125.2 160.0h1.4v1.4h-1.4zM122.1 137.9h1.4v1.4h-1.4zM126.2 163.6h1.4v1.4h-1.4zM113.9 154.1h1.4v1.4h-1.4zM183.3 172.3h1.4v1.4h-1.4zM124.1 152.8h1.4v1.4h-1.4zM114.3 172.8h1.4v1.4h-1.4zM179.8 163.9h1.4v1.4h-1.4zM161.7 155.3h1.4v1.4h-1.4zM127.6 150.9h1.4v1.4h-1.4zM169.5 166.6h1.4v1.4h-1.4zM165.9 168.1h1.4v1.4h-1.4zM115.1 156.0h1.4v1.4h-1.4zM176.5 162.4h1.4v1.4h-1.4zM109.9 162.8h1.4v1.4h-1.4zM125.5 158.9h1.4v1.4h-1.4zM127.0 143.2h1.4v1.4h-1.4zM125.3 151.3h1.4v1.4h-1.4zM122.8 163.3h1.4v1.4h-1.4zM162.5 158.3h1.4v1.4h-1.4zM166.1 161.6h1.4v1.4h-1.4zM126.8 144.5h1.4v1.4h-1.4zM126.5 155.0h1.4v1.4h-1.4zM163.2 160.8h1.4v1.4h-1.4zM120.9 132.7h1.4v1.4h-1.4zM167.3 169.2h1.4v1.4h-1.4zM166.1 168.0h1.4v1.4h-1.4zM163.9 162.5h1.4v1.4h-1.4zM124.9 171.1h1.4v1.4h-1.4zM122.2 143.1h1.4v1.4h-1.4zM128.9 144.6h1.4v1.4h-1.4zM124.4 149.7h1.4v1.4h-1.4zM115.9 146.0h1.4v1.4h-1.4zM195.3 169.7h1.4v1.4h-1.4zM125.3 153.4h1.4v1.4h-1.4zM109.2 172.2h1.4v1.4h-1.4zM118.8 163.9h1.4v1.4h-1.4zM128.2 153.5h1.4v1.4h-1.4zM123.4 152.8h1.4v1.4h-1.4zM119.3 166.9h1.4v1.4h-1.4zM161.1 157.3h1.4v1.4h-1.4zM118.8 166.1h1.4v1.4h-1.4zM121.4 147.6h1.4v1.4h-1.4zM121.9 158.6h1.4v1.4h-1.4zM130.1 139.4h1.4v1.4h-1.4zM121.1 162.7h1.4v1.4h-1.4zM162.1 164.6h1.4v1.4h-1.4zM124.2 169.7h1.4v1.4h-1.4zM165.1 156.7h1.4v1.4h-1.4zM122.5 141.2h1.4v1.4h-1.4zM185.7 168.9h1.4v1.4h-1.4zM175.2 170.5h1.4v1.4h-1.4zM171.3 171.7h1.4v1.4h-1.4zM113.8 161.2h1.4v1.4h-1.4zM126.5 160.6h1.4v1.4h-1.4zM194.8 171.2h1.4v1.4h-1.4zM189.3 169.1h1.4v1.4h-1.4zM188.0 167.5h1.4v1.4h-1.4zM171.7 170.6h1.4v1.4h-1.4zM118.1 167.1h1.4v1.4h-1.4zM122.6 172.1h1.4v1.4h-1.4zM169.4 160.2h1.4v1.4h-1.4zM125.4 143.3h1.4v1.4h-1.4zM124.2 164.6h1.4v1.4h-1.4zM125.5 148.7h1.4v1.4h-1.4zM164.5 171.6h1.4v1.4h-1.4zM124.5 169.3h1.4v1.4h-1.4zM123.6 164.5h1.4v1.4h-1.4zM126.8 167.1h1.4v1.4h-1.4zM128.2 148.0h1.4v1.4h-1.4zM115.5 161.1h1.4v1.4h-1.4zM172.7 169.5h1.4v1.4h-1.4zM165.5 171.5h1.4v1.4h-1.4zM163.0 168.1h1.4v1.4h-1.4zM118.0 154.0h1.4v1.4h-1.4zM169.7 172.3h1.4v1.4h-1.4zM126.1 171.8h1.4v1.4h-1.4zM162.2 160.7h1.4v1.4h-1.4zM123.9 161.8h1.4v1.4h-1.4zM166.0 171.0h1.4v1.4h-1.4zM164.1 166.2h1.4v1.4h-1.4zM121.6 145.9h1.4v1.4h-1.4zM127.6 157.0h1.4v1.4h-1.4zM123.7 160.8h1.4v1.4h-1.4zM115.3 160.8h1.4v1.4h-1.4zM166.2 169.9h1.4v1.4h-1.4zM122.9 162.0h1.4v1.4h-1.4zM191.7 167.8h1.4v1.4h-1.4zM170.2 161.8h1.4v1.4h-1.4zM127.7 142.6h1.4v1.4h-1.4zM126.6 155.2h1.4v1.4h-1.4zM123.3 168.6h1.4v1.4h-1.4zM118.9 168.0h1.4v1.4h-1.4zM167.8 166.7h1.4v1.4h-1.4zM165.8 165.0h1.4v1.4h-1.4zM162.4 163.3h1.4v1.4h-1.4zM170.8 173.2h1.4v1.4h-1.4zM165.1 168.4h1.4v1.4h-1.4zM121.6 158.1h1.4v1.4h-1.4zM167.4 168.2h1.4v1.4h-1.4zM174.7 171.4h1.4v1.4h-1.4zM125.0 142.2h1.4v1.4h-1.4zM118.8 169.7h1.4v1.4h-1.4zM116.0 165.2h1.4v1.4h-1.4zM130.9 136.3h1.4v1.4h-1.4zM113.8 153.7h1.4v1.4h-1.4zM122.8 169.5h1.4v1.4h-1.4zM128.1 151.9h1.4v1.4h-1.4zM106.0 157.7h1.4v1.4h-1.4zM122.0 154.3h1.4v1.4h-1.4zM127.6 149.7h1.4v1.4h-1.4zM122.5 142.8h1.4v1.4h-1.4zM163.1 157.7h1.4v1.4h-1.4zM125.0 139.7h1.4v1.4h-1.4zM174.5 161.7h1.4v1.4h-1.4zM119.0 168.6h1.4v1.4h-1.4zM124.8 144.5h1.4v1.4h-1.4zM115.0 152.1h1.4v1.4h-1.4zM124.7 166.5h1.4v1.4h-1.4zM125.9 142.4h1.4v1.4h-1.4zM165.2 167.0h1.4v1.4h-1.4zM182.7 169.2h1.4v1.4h-1.4zM124.1 167.6h1.4v1.4h-1.4zM122.7 149.9h1.4v1.4h-1.4zM166.1 159.0h1.4v1.4h-1.4zM123.7 146.9h1.4v1.4h-1.4zM117.2 147.9h1.4v1.4h-1.4zM168.2 166.6h1.4v1.4h-1.4zM162.6 163.9h1.4v1.4h-1.4zM127.4 165.3h1.4v1.4h-1.4zM128.9 144.3h1.4v1.4h-1.4zM113.7 171.6h1.4v1.4h-1.4zM188.9 168.2h1.4v1.4h-1.4zM127.9 156.2h1.4v1.4h-1.4zM163.8 169.1h1.4v1.4h-1.4zM165.3 172.5h1.4v1.4h-1.4zM125.3 132.3h1.4v1.4h-1.4zM142.2 173.0h1.4v1.4h-1.4zM124.7 152.3h1.4v1.4h-1.4zM162.5 165.6h1.4v1.4h-1.4zM175.4 169.1h1.4v1.4h-1.4zM121.8 161.8h1.4v1.4h-1.4zM120.8 160.5h1.4v1.4h-1.4zM172.8 168.9h1.4v1.4h-1.4zM165.7 159.7h1.4v1.4h-1.4zM126.7 164.9h1.4v1.4h-1.4zM122.4 167.1h1.4v1.4h-1.4zM116.2 165.0h1.4v1.4h-1.4zM106.5 156.7h1.4v1.4h-1.4zM168.1 166.9h1.4v1.4h-1.4zM118.1 166.7h1.4v1.4h-1.4zM118.4 152.0h1.4v1.4h-1.4zM158.9 156.4h1.4v1.4h-1.4zM109.0 158.7h1.4v1.4h-1.4zM182.5 148.9h1.4v1.4h-1.4zM123.4 159.7h1.4v1.4h-1.4zM123.4 170.5h1.4v1.4h-1.4zM125.3 140.5h1.4v1.4h-1.4zM172.4 168.2h1.4v1.4h-1.4zM163.8 160.6h1.4v1.4h-1.4zM172.0 169.6h1.4v1.4h-1.4zM128.2 137.3h1.4v1.4h-1.4zM122.5 163.9h1.4v1.4h-1.4zM116.5 154.5h1.4v1.4h-1.4zM112.7 164.8h1.4v1.4h-1.4zM121.0 161.2h1.4v1.4h-1.4zM120.4 163.7h1.4v1.4h-1.4zM128.7 145.7h1.4v1.4h-1.4zM167.1 161.3h1.4v1.4h-1.4zM178.6 163.1h1.4v1.4h-1.4zM124.2 170.3h1.4v1.4h-1.4zM124.7 170.7h1.4v1.4h-1.4zM124.6 158.4h1.4v1.4h-1.4zM114.5 169.5h1.4v1.4h-1.4zM127.6 161.3h1.4v1.4h-1.4zM168.0 159.4h1.4v1.4h-1.4zM170.6 165.4h1.4v1.4h-1.4zM144.4 173.3h1.4v1.4h-1.4zM126.2 161.8h1.4v1.4h-1.4zM120.4 166.5h1.4v1.4h-1.4zM161.5 161.8h1.4v1.4h-1.4zM168.3 160.5h1.4v1.4h-1.4zM124.1 158.8h1.4v1.4h-1.4zM119.0 154.4h1.4v1.4h-1.4zM161.4 162.3h1.4v1.4h-1.4zM124.4 162.6h1.4v1.4h-1.4zM165.2 167.2h1.4v1.4h-1.4zM169.6 160.4h1.4v1.4h-1.4zM121.8 159.6h1.4v1.4h-1.4zM167.7 172.1h1.4v1.4h-1.4zM194.4 170.2h1.4v1.4h-1.4zM166.6 159.8h1.4v1.4h-1.4zM122.4 173.1h1.4v1.4h-1.4zM168.6 164.8h1.4v1.4h-1.4zM169.8 168.2h1.4v1.4h-1.4zM118.3 170.4h1.4v1.4h-1.4zM120.9 170.7h1.4v1.4h-1.4zM165.5 168.4h1.4v1.4h-1.4zM169.8 163.8h1.4v1.4h-1.4zM112.6 164.7h1.4v1.4h-1.4zM118.7 164.6h1.4v1.4h-1.4zM127.4 164.2h1.4v1.4h-1.4zM118.8 161.3h1.4v1.4h-1.4zM124.2 154.8h1.4v1.4h-1.4zM165.9 161.1h1.4v1.4h-1.4zM119.4 164.5h1.4v1.4h-1.4zM172.7 169.2h1.4v1.4h-1.4zM158.4 154.2h1.4v1.4h-1.4zM165.4 157.9h1.4v1.4h-1.4zM167.9 155.1h1.4v1.4h-1.4zM119.1 168.9h1.4v1.4h-1.4zM163.7 151.9h1.4v1.4h-1.4zM163.3 168.8h1.4v1.4h-1.4zM125.5 161.8h1.4v1.4h-1.4zM112.6 157.5h1.4v1.4h-1.4zM169.2 158.9h1.4v1.4h-1.4zM125.8 146.7h1.4v1.4h-1.4zM216.9 172.2h1.4v1.4h-1.4zM122.1 170.5h1.4v1.4h-1.4zM122.8 164.4h1.4v1.4h-1.4zM104.3 164.4h1.4v1.4h-1.4zM129.2 132.0h1.4v1.4h-1.4zM165.6 169.9h1.4v1.4h-1.4zM129.6 140.0h1.4v1.4h-1.4zM124.2 141.5h1.4v1.4h-1.4zM176.0 161.3h1.4v1.4h-1.4zM173.4 161.0h1.4v1.4h-1.4zM126.4 158.6h1.4v1.4h-1.4zM166.3 166.4h1.4v1.4h-1.4zM118.7 166.7h1.4v1.4h-1.4zM170.1 169.5h1.4v1.4h-1.4zM122.2 161.4h1.4v1.4h-1.4zM125.1 158.7h1.4v1.4h-1.4zM167.0 163.7h1.4v1.4h-1.4zM166.8 157.1h1.4v1.4h-1.4zM119.5 149.5h1.4v1.4h-1.4zM122.3 170.2h1.4v1.4h-1.4zM121.3 145.0h1.4v1.4h-1.4zM171.4 165.4h1.4v1.4h-1.4zM116.3 161.3h1.4v1.4h-1.4zM125.7 138.6h1.4v1.4h-1.4zM178.4 167.8h1.4v1.4h-1.4zM124.0 159.4h1.4v1.4h-1.4zM164.0 158.4h1.4v1.4h-1.4zM126.8 154.5h1.4v1.4h-1.4zM180.3 172.4h1.4v1.4h-1.4zM128.2 152.3h1.4v1.4h-1.4zM106.6 165.2h1.4v1.4h-1.4zM165.8 172.6h1.4v1.4h-1.4zM123.9 154.5h1.4v1.4h-1.4zM121.7 144.9h1.4v1.4h-1.4zM127.4 160.3h1.4v1.4h-1.4zM120.6 164.1h1.4v1.4h-1.4zM119.5 152.7h1.4v1.4h-1.4zM167.1 161.1h1.4v1.4h-1.4zM111.6 170.2h1.4v1.4h-1.4zM116.7 154.1h1.4v1.4h-1.4zM121.4 145.5h1.4v1.4h-1.4zM190.5 170.2h1.4v1.4h-1.4zM126.2 138.6h1.4v1.4h-1.4zM164.8 162.1h1.4v1.4h-1.4zM122.7 169.1h1.4v1.4h-1.4zM171.7 171.7h1.4v1.4h-1.4zM127.8 143.0h1.4v1.4h-1.4zM128.5 135.3h1.4v1.4h-1.4zM129.7 131.5h1.4v1.4h-1.4zM161.4 163.8h1.4v1.4h-1.4zM163.0 165.8h1.4v1.4h-1.4zM126.6 155.8h1.4v1.4h-1.4zM124.7 145.4h1.4v1.4h-1.4zM127.1 147.7h1.4v1.4h-1.4zM164.5 170.0h1.4v1.4h-1.4zM182.0 169.0h1.4v1.4h-1.4zM122.1 162.7h1.4v1.4h-1.4zM118.6 154.6h1.4v1.4h-1.4zM170.8 160.8h1.4v1.4h-1.4zM166.1 166.0h1.4v1.4h-1.4zM116.8 148.3h1.4v1.4h-1.4zM107.3 166.5h1.4v1.4h-1.4zM127.7 160.8h1.4v1.4h-1.4zM164.6 157.9h1.4v1.4h-1.4zM126.1 160.0h1.4v1.4h-1.4zM118.5 158.3h1.4v1.4h-1.4zM124.6 148.6h1.4v1.4h-1.4zM166.5 162.5h1.4v1.4h-1.4zM118.0 157.2h1.4v1.4h-1.4zM172.3 166.5h1.4v1.4h-1.4zM123.6 149.5h1.4v1.4h-1.4zM116.7 145.5h1.4v1.4h-1.4zM166.3 169.1h1.4v1.4h-1.4zM125.7 164.5h1.4v1.4h-1.4zM169.4 160.4h1.4v1.4h-1.4zM115.7 146.4h1.4v1.4h-1.4zM168.1 159.9h1.4v1.4h-1.4zM118.7 170.5h1.4v1.4h-1.4zM170.1 159.4h1.4v1.4h-1.4zM116.1 165.7h1.4v1.4h-1.4zM123.8 165.1h1.4v1.4h-1.4zM167.6 166.8h1.4v1.4h-1.4zM122.8 169.8h1.4v1.4h-1.4zM125.0 164.2h1.4v1.4h-1.4zM104.2 159.1h1.4v1.4h-1.4zM171.0 139.8h1.4v1.4h-1.4zM128.5 144.4h1.4v1.4h-1.4zM129.4 138.3h1.4v1.4h-1.4zM182.0 163.6h1.4v1.4h-1.4zM113.7 171.3h1.4v1.4h-1.4zM127.5 135.8h1.4v1.4h-1.4zM180.3 158.4h1.4v1.4h-1.4zM126.6 163.1h1.4v1.4h-1.4zM162.6 171.9h1.4v1.4h-1.4zM181.2 167.4h1.4v1.4h-1.4zM178.1 167.9h1.4v1.4h-1.4zM163.7 160.6h1.4v1.4h-1.4zM123.5 146.4h1.4v1.4h-1.4zM127.3 152.2h1.4v1.4h-1.4zM119.6 168.1h1.4v1.4h-1.4zM178.0 171.6h1.4v1.4h-1.4zM129.6 138.8h1.4v1.4h-1.4zM121.7 165.8h1.4v1.4h-1.4zM125.4 156.9h1.4v1.4h-1.4zM115.6 150.9h1.4v1.4h-1.4zM170.0 171.5h1.4v1.4h-1.4zM123.7 167.9h1.4v1.4h-1.4zM115.1 166.5h1.4v1.4h-1.4zM168.5 161.2h1.4v1.4h-1.4zM163.8 169.9h1.4v1.4h-1.4zM120.2 163.5h1.4v1.4h-1.4zM170.8 160.8h1.4v1.4h-1.4zM124.1 153.4h1.4v1.4h-1.4zM170.3 164.9h1.4v1.4h-1.4zM180.0 164.7h1.4v1.4h-1.4zM116.8 173.1h1.4v1.4h-1.4zM123.3 157.7h1.4v1.4h-1.4zM110.2 155.5h1.4v1.4h-1.4zM155.3 173.1h1.4v1.4h-1.4zM118.4 165.1h1.4v1.4h-1.4zM198.0 137.0h1.4v1.4h-1.4zM189.9 149.7h1.4v1.4h-1.4zM207.3 153.4h1.4v1.4h-1.4zM164.4 153.7h1.4v1.4h-1.4zM178.1 143.1h1.4v1.4h-1.4zM175.8 138.8h1.4v1.4h-1.4zM206.5 125.2h1.4v1.4h-1.4zM203.6 154.9h1.4v1.4h-1.4zM186.9 150.9h1.4v1.4h-1.4zM192.6 141.9h1.4v1.4h-1.4zM181.7 137.7h1.4v1.4h-1.4zM191.5 128.6h1.4v1.4h-1.4zM197.3 147.5h1.4v1.4h-1.4zM187.0 147.8h1.4v1.4h-1.4zM205.7 139.4h1.4v1.4h-1.4zM181.6 155.7h1.4v1.4h-1.4zM200.3 138.5h1.4v1.4h-1.4zM187.2 133.0h1.4v1.4h-1.4zM205.0 149.1h1.4v1.4h-1.4zM193.5 135.7h1.4v1.4h-1.4zM90.8 104.0h1.4v1.4h-1.4zM93.3 107.8h1.4v1.4h-1.4zM95.1 111.8h1.4v1.4h-1.4zM105.1 122.2h1.4v1.4h-1.4zM91.7 134.7h1.4v1.4h-1.4zM60.0 141.4h1.4v1.4h-1.4zM77.1 143.0h1.4v1.4h-1.4zM98.1 138.0h1.4v1.4h-1.4zM110.4 112.5h1.4v1.4h-1.4zM110.2 117.2h1.4v1.4h-1.4zM112.3 117.8h1.4v1.4h-1.4zM114.3 115.8h1.4v1.4h-1.4zM60.1 141.5h1.4v1.4h-1.4zM65.9 145.9h1.4v1.4h-1.4zM66.7 158.8h1.4v1.4h-1.4zM85.0 153.8h1.4v1.4h-1.4zM91.9 134.8h1.4v1.4h-1.4zM97.5 138.3h1.4v1.4h-1.4zM98.2 139.7h1.4v1.4h-1.4zM98.4 144.3h1.4v1.4h-1.4zM89.4 158.4h1.4v1.4h-1.4zM91.6 159.1h1.4v1.4h-1.4zM97.5 161.2h1.4v1.4h-1.4zM99.5 159.1h1.4v1.4h-1.4zM101.6 158.4h1.4v1.4h-1.4zM103.7 158.7h1.4v1.4h-1.4zM206.8 127.3h1.4v1.4h-1.4zM198.0 133.0h1.4v1.4h-1.4zM201.3 149.5h1.4v1.4h-1.4zM202.1 159.0h1.4v1.4h-1.4zM209.8 170.3h1.4v1.4h-1.4zM214.3 164.3h1.4v1.4h-1.4zM226.1 158.9h1.4v1.4h-1.4zM195.9 170.0h1.4v1.4h-1.4zM193.3 171.1h1.4v1.4h-1.4zM196.7 149.9h1.4v1.4h-1.4zM193.1 151.8h1.4v1.4h-1.4z"/>
<path fill="#b80f3a" d="M154.0 113.1h1.4v1.4h-1.4zM154.9 113.0h1.4v1.4h-1.4zM165.2 143.0h1.4v1.4h-1.4zM155.2 145.1h1.4v1.4h-1.4zM160.2 146.9h1.4v1.4h-1.4zM167.1 149.4h1.4v1.4h-1.4zM173.4 133.2h1.4v1.4h-1.4zM156.5 146.6h1.4v1.4h-1.4zM157.2 139.6h1.4v1.4h-1.4zM166.6 143.4h1.4v1.4h-1.4zM169.1 152.1h1.4v1.4h-1.4zM156.3 141.6h1.4v1.4h-1.4zM152.3 145.8h1.4v1.4h-1.4zM159.2 142.4h1.4v1.4h-1.4zM156.5 148.6h1.4v1.4h-1.4zM161.3 124.7h1.4v1.4h-1.4zM170.2 139.7h1.4v1.4h-1.4zM159.3 135.6h1.4v1.4h-1.4zM152.0 149.1h1.4v1.4h-1.4zM158.8 153.9h1.4v1.4h-1.4zM161.4 154.1h1.4v1.4h-1.4zM166.1 143.0h1.4v1.4h-1.4zM160.2 144.7h1.4v1.4h-1.4zM157.4 145.9h1.4v1.4h-1.4zM160.7 145.5h1.4v1.4h-1.4zM161.5 132.6h1.4v1.4h-1.4zM155.2 145.6h1.4v1.4h-1.4zM167.8 142.5h1.4v1.4h-1.4zM164.3 138.0h1.4v1.4h-1.4zM155.0 148.8h1.4v1.4h-1.4zM153.1 145.4h1.4v1.4h-1.4zM159.8 132.7h1.4v1.4h-1.4zM160.1 147.4h1.4v1.4h-1.4zM160.2 142.4h1.4v1.4h-1.4zM165.4 138.4h1.4v1.4h-1.4zM160.3 152.7h1.4v1.4h-1.4zM168.9 96.9h1.4v1.4h-1.4zM164.4 139.0h1.4v1.4h-1.4zM160.0 132.3h1.4v1.4h-1.4zM165.4 141.7h1.4v1.4h-1.4zM155.7 148.7h1.4v1.4h-1.4zM159.3 154.9h1.4v1.4h-1.4zM156.8 135.8h1.4v1.4h-1.4zM156.7 130.5h1.4v1.4h-1.4zM158.5 140.7h1.4v1.4h-1.4zM159.6 153.5h1.4v1.4h-1.4zM163.2 141.3h1.4v1.4h-1.4zM158.2 146.5h1.4v1.4h-1.4zM156.2 144.1h1.4v1.4h-1.4zM151.8 138.5h1.4v1.4h-1.4zM154.7 119.3h1.4v1.4h-1.4zM166.1 140.5h1.4v1.4h-1.4zM168.5 116.6h1.4v1.4h-1.4zM161.3 139.0h1.4v1.4h-1.4zM159.4 155.0h1.4v1.4h-1.4zM151.8 145.6h1.4v1.4h-1.4zM164.8 133.4h1.4v1.4h-1.4zM161.5 151.0h1.4v1.4h-1.4zM159.1 137.1h1.4v1.4h-1.4zM172.2 154.0h1.4v1.4h-1.4zM154.0 137.7h1.4v1.4h-1.4zM156.3 130.2h1.4v1.4h-1.4zM158.4 143.8h1.4v1.4h-1.4zM163.6 129.9h1.4v1.4h-1.4zM156.8 147.2h1.4v1.4h-1.4zM171.8 99.0h1.4v1.4h-1.4zM159.3 143.3h1.4v1.4h-1.4zM157.7 147.3h1.4v1.4h-1.4zM152.9 149.4h1.4v1.4h-1.4zM162.7 143.8h1.4v1.4h-1.4zM158.0 138.5h1.4v1.4h-1.4zM157.7 140.5h1.4v1.4h-1.4zM158.5 154.1h1.4v1.4h-1.4zM154.4 124.9h1.4v1.4h-1.4zM156.5 145.4h1.4v1.4h-1.4zM154.8 135.7h1.4v1.4h-1.4zM157.7 138.5h1.4v1.4h-1.4zM155.3 148.6h1.4v1.4h-1.4zM157.0 148.3h1.4v1.4h-1.4zM160.7 141.3h1.4v1.4h-1.4zM165.8 121.6h1.4v1.4h-1.4zM164.2 118.7h1.4v1.4h-1.4zM162.0 143.7h1.4v1.4h-1.4zM151.4 148.7h1.4v1.4h-1.4zM162.2 144.2h1.4v1.4h-1.4zM158.7 134.1h1.4v1.4h-1.4zM177.5 137.2h1.4v1.4h-1.4zM188.3 96.9h1.4v1.4h-1.4zM153.7 128.9h1.4v1.4h-1.4zM165.8 142.5h1.4v1.4h-1.4zM153.6 139.3h1.4v1.4h-1.4zM159.5 153.9h1.4v1.4h-1.4zM155.2 145.8h1.4v1.4h-1.4zM157.3 128.0h1.4v1.4h-1.4zM155.7 145.5h1.4v1.4h-1.4zM156.2 148.2h1.4v1.4h-1.4zM157.0 144.9h1.4v1.4h-1.4zM169.9 150.1h1.4v1.4h-1.4zM164.9 147.6h1.4v1.4h-1.4zM158.2 149.5h1.4v1.4h-1.4zM154.2 144.6h1.4v1.4h-1.4zM163.7 136.8h1.4v1.4h-1.4zM153.3 148.4h1.4v1.4h-1.4zM161.8 112.5h1.4v1.4h-1.4zM165.4 135.4h1.4v1.4h-1.4zM175.7 149.6h1.4v1.4h-1.4zM154.8 135.9h1.4v1.4h-1.4zM159.4 147.7h1.4v1.4h-1.4zM152.2 150.2h1.4v1.4h-1.4zM160.6 133.1h1.4v1.4h-1.4zM163.9 138.6h1.4v1.4h-1.4zM171.1 139.7h1.4v1.4h-1.4zM154.0 132.0h1.4v1.4h-1.4zM159.6 151.7h1.4v1.4h-1.4zM162.5 148.0h1.4v1.4h-1.4zM155.8 147.5h1.4v1.4h-1.4zM157.7 146.2h1.4v1.4h-1.4zM157.8 131.7h1.4v1.4h-1.4zM160.7 132.1h1.4v1.4h-1.4zM174.3 138.5h1.4v1.4h-1.4zM160.7 97.8h1.4v1.4h-1.4zM151.8 151.9h1.4v1.4h-1.4zM168.2 133.5h1.4v1.4h-1.4zM157.2 126.0h1.4v1.4h-1.4zM163.2 142.7h1.4v1.4h-1.4zM154.2 146.0h1.4v1.4h-1.4zM171.3 126.1h1.4v1.4h-1.4zM153.2 146.6h1.4v1.4h-1.4zM173.1 135.7h1.4v1.4h-1.4zM153.2 138.9h1.4v1.4h-1.4zM151.5 132.4h1.4v1.4h-1.4zM161.1 151.9h1.4v1.4h-1.4zM162.2 141.5h1.4v1.4h-1.4zM152.9 148.0h1.4v1.4h-1.4zM157.4 150.8h1.4v1.4h-1.4zM163.6 139.9h1.4v1.4h-1.4zM157.3 142.2h1.4v1.4h-1.4zM157.8 139.7h1.4v1.4h-1.4zM156.3 149.2h1.4v1.4h-1.4zM153.4 140.7h1.4v1.4h-1.4zM159.2 154.8h1.4v1.4h-1.4zM158.8 151.7h1.4v1.4h-1.4zM165.2 128.3h1.4v1.4h-1.4zM154.4 140.8h1.4v1.4h-1.4zM153.1 145.0h1.4v1.4h-1.4zM162.8 141.1h1.4v1.4h-1.4zM163.5 142.8h1.4v1.4h-1.4zM156.0 144.4h1.4v1.4h-1.4zM171.8 150.6h1.4v1.4h-1.4zM158.5 136.1h1.4v1.4h-1.4zM159.3 144.4h1.4v1.4h-1.4zM154.1 139.3h1.4v1.4h-1.4zM157.2 126.1h1.4v1.4h-1.4zM153.2 131.3h1.4v1.4h-1.4zM170.3 106.8h1.4v1.4h-1.4zM169.6 129.9h1.4v1.4h-1.4zM156.3 141.2h1.4v1.4h-1.4zM164.8 139.6h1.4v1.4h-1.4zM154.0 149.3h1.4v1.4h-1.4zM160.7 142.2h1.4v1.4h-1.4zM152.8 156.6h1.4v1.4h-1.4zM157.8 148.1h1.4v1.4h-1.4zM162.0 138.6h1.4v1.4h-1.4zM153.5 149.6h1.4v1.4h-1.4zM158.7 152.6h1.4v1.4h-1.4zM155.4 149.6h1.4v1.4h-1.4zM161.3 132.9h1.4v1.4h-1.4zM161.0 145.0h1.4v1.4h-1.4zM159.3 134.5h1.4v1.4h-1.4zM170.1 137.7h1.4v1.4h-1.4zM165.0 142.0h1.4v1.4h-1.4zM160.6 153.1h1.4v1.4h-1.4zM158.0 146.3h1.4v1.4h-1.4zM169.0 134.9h1.4v1.4h-1.4zM161.5 152.6h1.4v1.4h-1.4zM166.0 142.8h1.4v1.4h-1.4zM155.0 119.3h1.4v1.4h-1.4zM155.5 141.4h1.4v1.4h-1.4zM159.9 151.7h1.4v1.4h-1.4zM155.3 95.8h1.4v1.4h-1.4zM165.0 144.9h1.4v1.4h-1.4zM166.7 119.3h1.4v1.4h-1.4zM159.7 155.2h1.4v1.4h-1.4zM153.5 126.7h1.4v1.4h-1.4zM161.9 148.6h1.4v1.4h-1.4zM158.3 123.4h1.4v1.4h-1.4zM154.7 149.2h1.4v1.4h-1.4zM160.4 154.7h1.4v1.4h-1.4zM159.4 117.4h1.4v1.4h-1.4zM159.9 120.6h1.4v1.4h-1.4zM153.7 137.7h1.4v1.4h-1.4zM159.4 139.2h1.4v1.4h-1.4zM157.5 150.2h1.4v1.4h-1.4zM167.7 143.8h1.4v1.4h-1.4zM162.3 136.1h1.4v1.4h-1.4zM156.2 137.7h1.4v1.4h-1.4zM160.5 126.6h1.4v1.4h-1.4zM151.3 147.2h1.4v1.4h-1.4zM163.4 144.6h1.4v1.4h-1.4zM157.9 130.9h1.4v1.4h-1.4zM159.7 149.3h1.4v1.4h-1.4zM160.1 144.3h1.4v1.4h-1.4zM153.9 148.2h1.4v1.4h-1.4zM153.6 144.6h1.4v1.4h-1.4zM156.2 148.1h1.4v1.4h-1.4zM155.9 141.1h1.4v1.4h-1.4zM168.5 142.0h1.4v1.4h-1.4zM168.4 141.7h1.4v1.4h-1.4zM172.1 142.9h1.4v1.4h-1.4zM152.7 134.5h1.4v1.4h-1.4zM175.7 148.8h1.4v1.4h-1.4zM152.5 148.5h1.4v1.4h-1.4zM158.2 143.0h1.4v1.4h-1.4zM151.4 134.5h1.4v1.4h-1.4zM155.7 139.2h1.4v1.4h-1.4zM152.2 147.7h1.4v1.4h-1.4zM155.9 145.9h1.4v1.4h-1.4zM153.0 144.4h1.4v1.4h-1.4zM161.9 149.8h1.4v1.4h-1.4zM160.5 147.9h1.4v1.4h-1.4zM171.4 135.6h1.4v1.4h-1.4zM152.9 149.1h1.4v1.4h-1.4zM161.0 134.5h1.4v1.4h-1.4zM156.3 132.2h1.4v1.4h-1.4zM175.6 138.3h1.4v1.4h-1.4zM160.6 146.8h1.4v1.4h-1.4zM164.0 151.6h1.4v1.4h-1.4zM165.8 143.5h1.4v1.4h-1.4zM160.4 125.2h1.4v1.4h-1.4zM162.0 149.7h1.4v1.4h-1.4zM159.2 148.3h1.4v1.4h-1.4zM166.6 143.8h1.4v1.4h-1.4zM158.3 150.5h1.4v1.4h-1.4zM158.4 140.3h1.4v1.4h-1.4zM163.1 150.0h1.4v1.4h-1.4zM155.1 144.7h1.4v1.4h-1.4zM158.2 151.8h1.4v1.4h-1.4zM158.6 153.3h1.4v1.4h-1.4zM160.1 150.7h1.4v1.4h-1.4zM156.6 114.6h1.4v1.4h-1.4zM151.6 146.0h1.4v1.4h-1.4zM162.7 146.8h1.4v1.4h-1.4zM154.0 149.0h1.4v1.4h-1.4zM164.6 143.2h1.4v1.4h-1.4zM154.2 133.8h1.4v1.4h-1.4zM162.5 140.0h1.4v1.4h-1.4zM152.7 136.1h1.4v1.4h-1.4zM153.6 147.2h1.4v1.4h-1.4zM157.5 145.4h1.4v1.4h-1.4zM151.6 148.7h1.4v1.4h-1.4zM161.5 150.8h1.4v1.4h-1.4zM160.8 156.4h1.4v1.4h-1.4zM155.3 144.4h1.4v1.4h-1.4zM153.6 148.0h1.4v1.4h-1.4zM157.6 141.3h1.4v1.4h-1.4zM158.8 137.4h1.4v1.4h-1.4zM163.6 124.5h1.4v1.4h-1.4zM155.6 133.5h1.4v1.4h-1.4zM165.5 149.9h1.4v1.4h-1.4zM159.7 124.1h1.4v1.4h-1.4zM162.5 125.3h1.4v1.4h-1.4zM161.9 147.7h1.4v1.4h-1.4zM160.9 121.9h1.4v1.4h-1.4zM156.1 148.9h1.4v1.4h-1.4zM165.0 141.6h1.4v1.4h-1.4zM169.6 142.8h1.4v1.4h-1.4zM156.0 114.8h1.4v1.4h-1.4zM156.9 141.0h1.4v1.4h-1.4zM167.1 139.8h1.4v1.4h-1.4zM166.6 95.9h1.4v1.4h-1.4zM159.3 145.4h1.4v1.4h-1.4zM159.2 106.0h1.4v1.4h-1.4zM181.2 29.9h1.4v1.4h-1.4zM193.3 38.9h1.4v1.4h-1.4zM176.2 47.4h1.4v1.4h-1.4zM184.3 50.8h1.4v1.4h-1.4zM166.4 65.8h1.4v1.4h-1.4zM172.4 67.8h1.4v1.4h-1.4zM187.6 73.0h1.4v1.4h-1.4zM164.5 75.6h1.4v1.4h-1.4zM166.0 79.1h1.4v1.4h-1.4zM164.1 88.1h1.4v1.4h-1.4zM165.3 89.5h1.4v1.4h-1.4zM166.8 90.8h1.4v1.4h-1.4zM201.2 98.1h1.4v1.4h-1.4zM205.2 137.3h1.4v1.4h-1.4zM199.2 142.8h1.4v1.4h-1.4zM188.2 135.2h1.4v1.4h-1.4z"/>
<path fill="#274a86" d="M120.7 126.7h1.4v1.4h-1.4zM109.3 100.7h1.4v1.4h-1.4zM131.7 127.2h1.4v1.4h-1.4zM130.2 105.2h1.4v1.4h-1.4zM129.5 131.3h1.4v1.4h-1.4zM126.3 133.6h1.4v1.4h-1.4zM132.5 136.3h1.4v1.4h-1.4zM127.4 131.8h1.4v1.4h-1.4zM126.2 119.9h1.4v1.4h-1.4zM120.6 113.5h1.4v1.4h-1.4zM125.5 132.1h1.4v1.4h-1.4zM131.5 126.2h1.4v1.4h-1.4zM125.4 137.1h1.4v1.4h-1.4zM130.2 126.3h1.4v1.4h-1.4zM130.3 132.3h1.4v1.4h-1.4zM126.2 84.0h1.4v1.4h-1.4zM109.1 102.3h1.4v1.4h-1.4zM125.8 128.4h1.4v1.4h-1.4zM129.8 128.4h1.4v1.4h-1.4zM125.2 113.8h1.4v1.4h-1.4zM118.2 99.9h1.4v1.4h-1.4zM119.3 101.4h1.4v1.4h-1.4zM127.1 126.1h1.4v1.4h-1.4zM129.7 130.4h1.4v1.4h-1.4zM122.5 90.8h1.4v1.4h-1.4zM123.2 129.8h1.4v1.4h-1.4zM127.1 121.6h1.4v1.4h-1.4zM128.5 133.7h1.4v1.4h-1.4zM131.4 117.9h1.4v1.4h-1.4zM129.4 134.8h1.4v1.4h-1.4zM125.8 127.7h1.4v1.4h-1.4zM131.8 132.5h1.4v1.4h-1.4zM116.4 70.3h1.4v1.4h-1.4zM121.4 114.8h1.4v1.4h-1.4zM130.0 112.4h1.4v1.4h-1.4zM130.9 137.0h1.4v1.4h-1.4zM130.2 130.9h1.4v1.4h-1.4zM129.9 100.1h1.4v1.4h-1.4zM124.0 123.4h1.4v1.4h-1.4zM131.0 123.7h1.4v1.4h-1.4zM130.4 119.6h1.4v1.4h-1.4zM125.3 134.7h1.4v1.4h-1.4zM130.4 127.7h1.4v1.4h-1.4zM124.3 128.2h1.4v1.4h-1.4zM129.2 119.6h1.4v1.4h-1.4zM114.8 88.4h1.4v1.4h-1.4zM117.9 63.9h1.4v1.4h-1.4zM125.6 99.5h1.4v1.4h-1.4zM113.9 118.9h1.4v1.4h-1.4zM127.0 132.4h1.4v1.4h-1.4zM121.6 91.0h1.4v1.4h-1.4zM127.9 124.9h1.4v1.4h-1.4zM120.0 108.6h1.4v1.4h-1.4zM125.3 62.1h1.4v1.4h-1.4zM120.6 112.4h1.4v1.4h-1.4zM125.4 112.9h1.4v1.4h-1.4zM132.3 134.3h1.4v1.4h-1.4zM109.8 94.8h1.4v1.4h-1.4zM124.8 115.3h1.4v1.4h-1.4zM129.7 125.3h1.4v1.4h-1.4zM125.8 131.8h1.4v1.4h-1.4zM121.9 80.4h1.4v1.4h-1.4zM126.4 114.9h1.4v1.4h-1.4zM127.7 121.7h1.4v1.4h-1.4zM132.4 129.7h1.4v1.4h-1.4zM130.4 134.6h1.4v1.4h-1.4zM126.0 128.7h1.4v1.4h-1.4zM124.7 119.0h1.4v1.4h-1.4zM131.0 135.7h1.4v1.4h-1.4zM128.5 120.1h1.4v1.4h-1.4zM112.4 97.9h1.4v1.4h-1.4zM127.3 79.9h1.4v1.4h-1.4zM131.8 133.5h1.4v1.4h-1.4zM132.9 135.9h1.4v1.4h-1.4zM128.2 116.5h1.4v1.4h-1.4zM127.3 114.2h1.4v1.4h-1.4zM130.6 126.2h1.4v1.4h-1.4zM131.0 117.1h1.4v1.4h-1.4zM127.5 116.0h1.4v1.4h-1.4zM123.4 103.3h1.4v1.4h-1.4zM119.3 81.0h1.4v1.4h-1.4zM128.0 105.7h1.4v1.4h-1.4zM123.9 135.4h1.4v1.4h-1.4zM111.4 105.4h1.4v1.4h-1.4zM129.7 134.8h1.4v1.4h-1.4zM123.2 135.0h1.4v1.4h-1.4zM131.5 136.2h1.4v1.4h-1.4zM131.4 132.7h1.4v1.4h-1.4zM125.9 126.5h1.4v1.4h-1.4zM125.6 135.7h1.4v1.4h-1.4zM123.6 120.3h1.4v1.4h-1.4zM124.1 105.2h1.4v1.4h-1.4zM132.2 130.2h1.4v1.4h-1.4zM124.5 123.4h1.4v1.4h-1.4zM129.7 129.5h1.4v1.4h-1.4zM121.3 86.9h1.4v1.4h-1.4zM121.8 99.0h1.4v1.4h-1.4zM129.2 134.9h1.4v1.4h-1.4zM117.0 122.8h1.4v1.4h-1.4zM131.4 125.8h1.4v1.4h-1.4zM123.3 115.3h1.4v1.4h-1.4zM122.5 105.5h1.4v1.4h-1.4zM123.2 119.8h1.4v1.4h-1.4zM127.0 103.7h1.4v1.4h-1.4zM128.8 110.0h1.4v1.4h-1.4zM127.5 105.8h1.4v1.4h-1.4zM127.6 133.7h1.4v1.4h-1.4zM130.7 124.8h1.4v1.4h-1.4zM126.1 60.9h1.4v1.4h-1.4zM132.0 130.7h1.4v1.4h-1.4zM117.7 77.5h1.4v1.4h-1.4zM126.0 109.2h1.4v1.4h-1.4zM128.5 105.9h1.4v1.4h-1.4zM124.9 132.2h1.4v1.4h-1.4zM131.2 136.7h1.4v1.4h-1.4zM112.2 88.6h1.4v1.4h-1.4zM125.8 126.8h1.4v1.4h-1.4zM130.1 118.5h1.4v1.4h-1.4zM122.7 135.3h1.4v1.4h-1.4zM124.0 84.8h1.4v1.4h-1.4zM100.6 108.4h1.4v1.4h-1.4zM131.1 131.7h1.4v1.4h-1.4zM127.7 117.5h1.4v1.4h-1.4zM122.2 57.4h1.4v1.4h-1.4zM127.4 114.0h1.4v1.4h-1.4zM128.8 127.9h1.4v1.4h-1.4zM126.6 72.4h1.4v1.4h-1.4zM128.7 135.2h1.4v1.4h-1.4zM110.2 98.8h1.4v1.4h-1.4zM130.5 134.7h1.4v1.4h-1.4zM127.1 109.9h1.4v1.4h-1.4zM118.5 107.5h1.4v1.4h-1.4zM121.7 94.5h1.4v1.4h-1.4zM131.5 125.8h1.4v1.4h-1.4zM128.4 130.0h1.4v1.4h-1.4zM122.9 123.7h1.4v1.4h-1.4zM131.1 121.9h1.4v1.4h-1.4zM126.7 136.6h1.4v1.4h-1.4zM122.4 106.5h1.4v1.4h-1.4zM131.0 133.3h1.4v1.4h-1.4zM127.1 118.6h1.4v1.4h-1.4zM118.4 108.1h1.4v1.4h-1.4zM129.2 119.3h1.4v1.4h-1.4zM126.8 66.3h1.4v1.4h-1.4zM130.2 113.1h1.4v1.4h-1.4zM127.6 131.5h1.4v1.4h-1.4zM126.8 135.5h1.4v1.4h-1.4zM130.7 107.5h1.4v1.4h-1.4zM122.9 109.0h1.4v1.4h-1.4zM130.2 136.1h1.4v1.4h-1.4zM120.2 121.1h1.4v1.4h-1.4zM118.8 81.7h1.4v1.4h-1.4zM121.0 121.4h1.4v1.4h-1.4zM117.9 89.4h1.4v1.4h-1.4zM123.4 94.9h1.4v1.4h-1.4zM127.2 121.6h1.4v1.4h-1.4zM130.1 130.6h1.4v1.4h-1.4zM120.0 69.7h1.4v1.4h-1.4zM117.9 69.6h1.4v1.4h-1.4zM122.5 126.2h1.4v1.4h-1.4zM123.0 116.6h1.4v1.4h-1.4zM128.7 120.8h1.4v1.4h-1.4zM130.0 96.7h1.4v1.4h-1.4zM131.9 136.4h1.4v1.4h-1.4zM120.0 64.4h1.4v1.4h-1.4zM125.5 135.2h1.4v1.4h-1.4zM123.2 114.0h1.4v1.4h-1.4zM130.5 130.2h1.4v1.4h-1.4zM126.0 104.1h1.4v1.4h-1.4zM124.4 126.0h1.4v1.4h-1.4zM109.6 89.5h1.4v1.4h-1.4zM125.5 118.0h1.4v1.4h-1.4zM124.4 99.4h1.4v1.4h-1.4zM127.2 134.5h1.4v1.4h-1.4zM117.1 118.8h1.4v1.4h-1.4zM132.4 129.9h1.4v1.4h-1.4zM121.0 128.9h1.4v1.4h-1.4zM120.7 99.8h1.4v1.4h-1.4zM127.5 102.0h1.4v1.4h-1.4zM122.5 121.7h1.4v1.4h-1.4zM122.9 127.8h1.4v1.4h-1.4zM122.0 134.8h1.4v1.4h-1.4zM130.2 136.2h1.4v1.4h-1.4zM130.8 122.1h1.4v1.4h-1.4zM124.2 69.0h1.4v1.4h-1.4zM125.8 126.6h1.4v1.4h-1.4zM129.0 127.7h1.4v1.4h-1.4zM126.8 108.2h1.4v1.4h-1.4zM123.3 119.9h1.4v1.4h-1.4zM128.6 127.8h1.4v1.4h-1.4zM126.9 130.5h1.4v1.4h-1.4zM105.1 63.2h1.4v1.4h-1.4zM125.7 111.8h1.4v1.4h-1.4zM126.9 113.2h1.4v1.4h-1.4zM120.6 61.0h1.4v1.4h-1.4zM110.2 96.5h1.4v1.4h-1.4zM128.9 95.0h1.4v1.4h-1.4zM129.2 112.7h1.4v1.4h-1.4zM130.1 133.1h1.4v1.4h-1.4zM109.0 114.1h1.4v1.4h-1.4zM125.5 109.2h1.4v1.4h-1.4zM131.2 121.7h1.4v1.4h-1.4zM131.8 123.5h1.4v1.4h-1.4zM119.7 109.8h1.4v1.4h-1.4zM125.1 131.8h1.4v1.4h-1.4zM124.0 92.2h1.4v1.4h-1.4zM125.8 89.7h1.4v1.4h-1.4zM128.2 135.5h1.4v1.4h-1.4zM126.3 111.6h1.4v1.4h-1.4zM126.5 104.9h1.4v1.4h-1.4zM117.3 133.3h1.4v1.4h-1.4zM123.0 119.0h1.4v1.4h-1.4zM129.6 129.4h1.4v1.4h-1.4zM131.3 136.3h1.4v1.4h-1.4zM117.3 102.9h1.4v1.4h-1.4zM131.5 119.9h1.4v1.4h-1.4zM130.5 127.4h1.4v1.4h-1.4zM130.6 136.5h1.4v1.4h-1.4zM115.7 92.3h1.4v1.4h-1.4zM126.9 93.1h1.4v1.4h-1.4zM131.4 131.4h1.4v1.4h-1.4zM126.0 128.2h1.4v1.4h-1.4zM113.4 119.2h1.4v1.4h-1.4zM130.1 112.7h1.4v1.4h-1.4zM124.5 66.2h1.4v1.4h-1.4zM126.6 129.9h1.4v1.4h-1.4zM123.7 107.2h1.4v1.4h-1.4zM110.8 113.8h1.4v1.4h-1.4zM123.2 117.3h1.4v1.4h-1.4zM129.0 106.1h1.4v1.4h-1.4zM125.6 123.7h1.4v1.4h-1.4zM116.4 106.3h1.4v1.4h-1.4zM121.9 78.0h1.4v1.4h-1.4zM127.9 130.5h1.4v1.4h-1.4zM128.9 117.7h1.4v1.4h-1.4zM132.0 131.8h1.4v1.4h-1.4zM132.0 129.9h1.4v1.4h-1.4zM127.9 131.2h1.4v1.4h-1.4zM124.7 100.0h1.4v1.4h-1.4zM121.3 60.3h1.4v1.4h-1.4zM127.6 78.6h1.4v1.4h-1.4zM130.5 128.3h1.4v1.4h-1.4zM125.6 91.5h1.4v1.4h-1.4zM103.8 92.9h1.4v1.4h-1.4zM132.5 134.4h1.4v1.4h-1.4zM120.4 95.9h1.4v1.4h-1.4zM125.5 102.6h1.4v1.4h-1.4zM126.6 100.1h1.4v1.4h-1.4zM111.3 109.4h1.4v1.4h-1.4zM101.0 64.7h1.4v1.4h-1.4zM125.9 120.7h1.4v1.4h-1.4zM122.9 123.8h1.4v1.4h-1.4zM121.4 83.0h1.4v1.4h-1.4zM128.7 109.6h1.4v1.4h-1.4zM124.1 62.1h1.4v1.4h-1.4zM123.1 121.0h1.4v1.4h-1.4zM126.8 115.5h1.4v1.4h-1.4zM131.8 137.1h1.4v1.4h-1.4zM112.2 94.9h1.4v1.4h-1.4zM125.5 61.9h1.4v1.4h-1.4zM124.4 131.2h1.4v1.4h-1.4zM127.3 90.6h1.4v1.4h-1.4zM117.7 86.6h1.4v1.4h-1.4zM129.3 121.8h1.4v1.4h-1.4zM130.4 137.2h1.4v1.4h-1.4zM131.6 133.9h1.4v1.4h-1.4zM119.7 58.7h1.4v1.4h-1.4zM128.8 130.6h1.4v1.4h-1.4zM123.3 77.2h1.4v1.4h-1.4zM126.3 96.9h1.4v1.4h-1.4zM123.6 128.3h1.4v1.4h-1.4zM121.7 112.1h1.4v1.4h-1.4zM128.8 130.7h1.4v1.4h-1.4zM124.6 118.1h1.4v1.4h-1.4zM123.5 110.1h1.4v1.4h-1.4zM126.5 124.4h1.4v1.4h-1.4zM127.9 136.4h1.4v1.4h-1.4zM129.4 126.7h1.4v1.4h-1.4zM127.5 117.3h1.4v1.4h-1.4zM126.0 54.5h1.4v1.4h-1.4zM129.3 108.3h1.4v1.4h-1.4zM127.8 125.6h1.4v1.4h-1.4zM105.1 113.1h1.4v1.4h-1.4zM123.5 117.1h1.4v1.4h-1.4zM123.5 78.3h1.4v1.4h-1.4zM127.1 130.1h1.4v1.4h-1.4zM118.9 54.6h1.4v1.4h-1.4zM128.3 133.3h1.4v1.4h-1.4zM117.1 103.9h1.4v1.4h-1.4zM116.4 60.5h1.4v1.4h-1.4zM127.0 125.1h1.4v1.4h-1.4zM124.0 97.2h1.4v1.4h-1.4zM125.2 111.2h1.4v1.4h-1.4zM124.1 119.0h1.4v1.4h-1.4zM125.1 128.7h1.4v1.4h-1.4zM129.3 121.5h1.4v1.4h-1.4zM115.2 105.3h1.4v1.4h-1.4zM132.0 135.3h1.4v1.4h-1.4zM124.7 115.9h1.4v1.4h-1.4zM129.7 131.4h1.4v1.4h-1.4zM113.6 102.9h1.4v1.4h-1.4zM128.2 126.0h1.4v1.4h-1.4zM130.5 124.5h1.4v1.4h-1.4zM121.3 66.1h1.4v1.4h-1.4zM122.5 101.3h1.4v1.4h-1.4zM120.7 58.6h1.4v1.4h-1.4zM132.7 137.0h1.4v1.4h-1.4zM116.4 115.5h1.4v1.4h-1.4zM125.0 123.0h1.4v1.4h-1.4zM106.8 74.6h1.4v1.4h-1.4zM129.8 112.7h1.4v1.4h-1.4zM123.3 69.0h1.4v1.4h-1.4zM127.9 127.0h1.4v1.4h-1.4zM120.1 62.3h1.4v1.4h-1.4zM129.3 100.2h1.4v1.4h-1.4zM118.2 116.8h1.4v1.4h-1.4zM122.0 112.9h1.4v1.4h-1.4zM122.6 119.5h1.4v1.4h-1.4zM128.7 113.9h1.4v1.4h-1.4zM119.6 74.0h1.4v1.4h-1.4zM124.6 69.6h1.4v1.4h-1.4zM129.4 129.0h1.4v1.4h-1.4zM120.6 107.5h1.4v1.4h-1.4zM128.1 124.3h1.4v1.4h-1.4zM130.5 104.2h1.4v1.4h-1.4zM124.7 101.9h1.4v1.4h-1.4zM106.0 115.0h1.4v1.4h-1.4zM130.1 133.9h1.4v1.4h-1.4zM122.3 127.5h1.4v1.4h-1.4zM118.0 60.0h1.4v1.4h-1.4zM130.5 127.7h1.4v1.4h-1.4zM129.9 129.2h1.4v1.4h-1.4zM129.6 134.9h1.4v1.4h-1.4zM130.8 137.1h1.4v1.4h-1.4zM128.3 136.1h1.4v1.4h-1.4zM132.4 129.9h1.4v1.4h-1.4zM130.0 133.6h1.4v1.4h-1.4zM128.5 132.2h1.4v1.4h-1.4zM128.5 132.0h1.4v1.4h-1.4zM129.4 131.1h1.4v1.4h-1.4zM131.3 133.2h1.4v1.4h-1.4zM131.2 130.5h1.4v1.4h-1.4zM130.5 132.3h1.4v1.4h-1.4zM126.8 126.4h1.4v1.4h-1.4zM131.0 135.2h1.4v1.4h-1.4zM128.6 131.4h1.4v1.4h-1.4zM129.3 134.0h1.4v1.4h-1.4zM131.4 127.4h1.4v1.4h-1.4zM132.6 132.6h1.4v1.4h-1.4zM130.9 131.3h1.4v1.4h-1.4zM131.3 134.7h1.4v1.4h-1.4zM130.3 131.9h1.4v1.4h-1.4zM131.5 129.8h1.4v1.4h-1.4zM129.9 131.2h1.4v1.4h-1.4zM131.1 130.9h1.4v1.4h-1.4zM129.9 131.1h1.4v1.4h-1.4zM131.0 133.8h1.4v1.4h-1.4zM130.4 130.3h1.4v1.4h-1.4zM129.6 131.5h1.4v1.4h-1.4zM131.3 133.4h1.4v1.4h-1.4zM115.3 21.8h1.4v1.4h-1.4zM120.3 23.5h1.4v1.4h-1.4zM103.9 31.2h1.4v1.4h-1.4zM109.3 32.8h1.4v1.4h-1.4zM116.4 30.3h1.4v1.4h-1.4zM119.1 30.8h1.4v1.4h-1.4zM118.3 33.9h1.4v1.4h-1.4zM116.4 37.0h1.4v1.4h-1.4zM83.0 43.1h1.4v1.4h-1.4zM116.4 42.6h1.4v1.4h-1.4zM104.3 48.0h1.4v1.4h-1.4zM110.1 50.6h1.4v1.4h-1.4zM107.6 53.1h1.4v1.4h-1.4zM113.0 57.2h1.4v1.4h-1.4zM78.7 60.3h1.4v1.4h-1.4zM98.5 61.4h1.4v1.4h-1.4zM123.1 60.1h1.4v1.4h-1.4zM96.8 65.8h1.4v1.4h-1.4zM115.5 63.3h1.4v1.4h-1.4zM109.3 65.6h1.4v1.4h-1.4zM110.3 68.9h1.4v1.4h-1.4zM113.7 68.5h1.4v1.4h-1.4zM115.1 68.9h1.4v1.4h-1.4zM117.0 68.0h1.4v1.4h-1.4zM122.2 69.7h1.4v1.4h-1.4zM123.3 71.6h1.4v1.4h-1.4zM121.8 73.7h1.4v1.4h-1.4zM117.3 76.6h1.4v1.4h-1.4zM118.5 77.6h1.4v1.4h-1.4zM121.8 76.2h1.4v1.4h-1.4zM78.3 79.1h1.4v1.4h-1.4zM77.4 85.1h1.4v1.4h-1.4zM103.0 81.2h1.4v1.4h-1.4zM108.3 81.4h1.4v1.4h-1.4zM110.5 79.3h1.4v1.4h-1.4zM114.3 82.4h1.4v1.4h-1.4zM125.6 79.5h1.4v1.4h-1.4zM124.7 81.8h1.4v1.4h-1.4zM94.5 91.0h1.4v1.4h-1.4zM111.2 87.4h1.4v1.4h-1.4zM115.1 85.3h1.4v1.4h-1.4zM119.3 85.6h1.4v1.4h-1.4zM120.5 86.8h1.4v1.4h-1.4zM123.7 84.7h1.4v1.4h-1.4zM126.6 88.9h1.4v1.4h-1.4zM61.2 104.0h1.4v1.4h-1.4zM98.7 122.8h1.4v1.4h-1.4zM103.7 129.0h1.4v1.4h-1.4zM109.1 133.7h1.4v1.4h-1.4zM104.4 103.5h1.4v1.4h-1.4zM103.4 106.4h1.4v1.4h-1.4zM107.1 107.8h1.4v1.4h-1.4zM106.7 110.2h1.4v1.4h-1.4zM110.2 99.7h1.4v1.4h-1.4z"/>
</g>
<line x1="59.0" y1="23.5" x2="59.0" y2="179.3" stroke="#231f20" stroke-width="1.5"/>
<line x1="58.3" y1="178.6" x2="232.0" y2="178.6" stroke="#231f20" stroke-width="1.5"/>
<line x1="55.4" y1="173.1" x2="59.0" y2="173.1" stroke="#231f20" stroke-width="1"/>
<text x="52.0" y="176.3" font-size="9.6" text-anchor="end">0</text>
<line x1="55.4" y1="144.2" x2="59.0" y2="144.2" stroke="#231f20" stroke-width="1"/>
<text x="52.0" y="147.4" font-size="9.6" text-anchor="end">5</text>
<line x1="55.4" y1="115.4" x2="59.0" y2="115.4" stroke="#231f20" stroke-width="1"/>
<text x="52.0" y="118.6" font-size="9.6" text-anchor="end">10</text>
<line x1="55.4" y1="86.5" x2="59.0" y2="86.5" stroke="#231f20" stroke-width="1"/>
<text x="52.0" y="89.8" font-size="9.6" text-anchor="end">15</text>
<line x1="55.4" y1="57.7" x2="59.0" y2="57.7" stroke="#231f20" stroke-width="1"/>
<text x="52.0" y="60.9" font-size="9.6" text-anchor="end">20</text>
<line x1="55.4" y1="28.8" x2="59.0" y2="28.8" stroke="#231f20" stroke-width="1"/>
<text x="52.0" y="32.0" font-size="9.6" text-anchor="end">25</text>
<line x1="87.4" y1="178.6" x2="87.4" y2="182.0" stroke="#231f20" stroke-width="1"/>
<text x="87.4" y="193.8" font-size="9.2" text-anchor="middle">-4</text>
<line x1="116.3" y1="178.6" x2="116.3" y2="182.0" stroke="#231f20" stroke-width="1"/>
<text x="116.3" y="193.8" font-size="9.2" text-anchor="middle">-2</text>
<line x1="145.2" y1="178.6" x2="145.2" y2="182.0" stroke="#231f20" stroke-width="1"/>
<text x="145.2" y="193.8" font-size="9.2" text-anchor="middle">0</text>
<line x1="174.1" y1="178.6" x2="174.1" y2="182.0" stroke="#231f20" stroke-width="1"/>
<text x="174.1" y="193.8" font-size="9.2" text-anchor="middle">2</text>
<line x1="203.0" y1="178.6" x2="203.0" y2="182.0" stroke="#231f20" stroke-width="1"/>
<text x="203.0" y="193.8" font-size="9.2" text-anchor="middle">4</text>
<line x1="59.2" y1="165.6" x2="232.0" y2="165.6" stroke="#111" stroke-width="1.1" stroke-dasharray="2.5 2.45"/>
<text x="35.3" y="101.5" font-size="10.5" text-anchor="middle" textLength="97.7" lengthAdjust="spacingAndGlyphs" transform="rotate(-90 35.3 101.5)">-Log10(adjusted P-value)</text>
<text x="110.9" y="208.8" font-size="10.6" textLength="67.2" lengthAdjust="spacingAndGlyphs">Log2 fold-change</text>
<text x="275.7" y="19.6" font-size="14.3" fill="#000" font-weight="bold">C</text>
<text x="394.2" y="45.8" font-size="11.6" textLength="45.8" lengthAdjust="spacingAndGlyphs">GSE2113</text>
<line x1="322.7" y1="52.2" x2="322.7" y2="168.4" stroke="#231f20" stroke-width="1.5"/>
<line x1="322.2" y1="167.7" x2="512.0" y2="167.7" stroke="#231f20" stroke-width="1.5"/>
<line x1="319.1" y1="147.5" x2="322.9" y2="147.5" stroke="#231f20" stroke-width="1"/>
<text x="315.3" y="150.3" font-size="9.2" text-anchor="end">−10</text>
<line x1="319.1" y1="117.3" x2="322.9" y2="117.3" stroke="#231f20" stroke-width="1"/>
<text x="315.3" y="120.1" font-size="9.2" text-anchor="end">0</text>
<line x1="319.1" y1="87.1" x2="322.9" y2="87.1" stroke="#231f20" stroke-width="1"/>
<text x="315.3" y="89.9" font-size="9.2" text-anchor="end">10</text>
<line x1="319.1" y1="56.9" x2="322.9" y2="56.9" stroke="#231f20" stroke-width="1"/>
<text x="315.3" y="59.7" font-size="9.2" text-anchor="end">20</text>
<line x1="358.0" y1="124.2" x2="358.0" y2="148.4" stroke="#222" stroke-width="1.1"/>
<rect x="340.4" y="125.8" width="35.3" height="15.4" fill="#67abe5"/>
<line x1="340.4" y1="135.0" x2="375.6" y2="135.0" stroke="#111" stroke-width="1.6"/>
<line x1="417.3" y1="97.3" x2="417.3" y2="140.6" stroke="#222" stroke-width="1.1"/>
<rect x="399.7" y="108.8" width="35.3" height="16.7" fill="#e3941b"/>
<line x1="399.7" y1="115.6" x2="434.9" y2="115.6" stroke="#111" stroke-width="1.6"/>
<line x1="476.5" y1="81.9" x2="476.5" y2="120.8" stroke="#222" stroke-width="1.1"/>
<rect x="458.9" y="86.9" width="35.3" height="21.6" fill="#4f2266"/>
<line x1="458.9" y1="96.9" x2="494.1" y2="96.9" stroke="#111" stroke-width="1.6"/>
<rect x="415.4" y="67.0" width="2.6" height="3.0" fill="#111"/>
<rect x="415.6" y="77.5" width="2.4" height="5.8" fill="#111"/>
<line x1="358.0" y1="167.7" x2="358.0" y2="170.3" stroke="#231f20" stroke-width="1"/>
<line x1="417.3" y1="167.7" x2="417.3" y2="170.3" stroke="#231f20" stroke-width="1"/>
<line x1="476.5" y1="167.7" x2="476.5" y2="170.3" stroke="#231f20" stroke-width="1"/>
<line x1="354.6" y1="59.6" x2="415.5" y2="59.6" stroke="#222" stroke-width="1.2"/>
<line x1="423.8" y1="59.6" x2="484.6" y2="59.6" stroke="#222" stroke-width="1.2"/>
<text x="366.0" y="71.0" font-size="9" textLength="38.0" lengthAdjust="spacingAndGlyphs">p = 0.003</text>
<text x="437.9" y="71.0" font-size="9" textLength="32.7" lengthAdjust="spacingAndGlyphs">p = 0.03</text>
<text x="358.0" y="182.5" font-size="8.9" text-anchor="middle">MGUS</text>
<text x="358.0" y="193.0" font-size="8.9" text-anchor="middle">(n = 7)</text>
<text x="417.3" y="182.5" font-size="8.9" text-anchor="middle">MM</text>
<text x="417.3" y="193.0" font-size="8.9" text-anchor="middle">(n = 39)</text>
<text x="476.5" y="182.5" font-size="8.9" text-anchor="middle">PCL</text>
<text x="476.5" y="193.0" font-size="8.9" text-anchor="middle">(n = 6)</text>
<text x="367.0" y="208.1" font-size="10.5" textLength="100.1" lengthAdjust="spacingAndGlyphs">Multiple myeloma stages</text>
<text x="292.7" y="107.6" font-size="11" text-anchor="middle" textLength="76.5" lengthAdjust="spacingAndGlyphs" transform="rotate(-90 292.7 107.6)">Enrichment Z−score</text>
<text x="8.2" y="229.7" font-size="13.1" fill="#000" font-weight="bold">B</text>
<line x1="57.6" y1="219.1" x2="57.6" y2="361.4" stroke="#231f20" stroke-width="1.5"/>
<line x1="56.6" y1="360.7" x2="251.0" y2="360.7" stroke="#231f20" stroke-width="1.5"/>
<line x1="54.3" y1="335.6" x2="57.3" y2="335.6" stroke="#231f20" stroke-width="1"/>
<text x="50.8" y="338.3" font-size="9.2" text-anchor="end">−10</text>
<line x1="54.3" y1="298.7" x2="57.3" y2="298.7" stroke="#231f20" stroke-width="1"/>
<text x="50.8" y="301.4" font-size="9.2" text-anchor="end">0</text>
<line x1="54.3" y1="261.8" x2="57.3" y2="261.8" stroke="#231f20" stroke-width="1"/>
<text x="50.8" y="264.5" font-size="9.2" text-anchor="end">10</text>
<line x1="54.3" y1="224.9" x2="57.3" y2="224.9" stroke="#231f20" stroke-width="1"/>
<text x="50.8" y="227.6" font-size="9.2" text-anchor="end">20</text>
<line x1="80.0" y1="305.2" x2="80.0" y2="322.5" stroke="#222" stroke-width="1.1"/>
<rect x="65.9" y="311.0" width="28.2" height="6.7" fill="#bcd7f1"/>
<line x1="65.9" y1="314.4" x2="94.1" y2="314.4" stroke="#111" stroke-width="1.6"/>
<line x1="117.3" y1="287.9" x2="117.3" y2="329.2" stroke="#222" stroke-width="1.1"/>
<rect x="103.2" y="302.3" width="28.2" height="11.2" fill="#5b9bd7"/>
<line x1="103.2" y1="309.4" x2="131.4" y2="309.4" stroke="#111" stroke-width="1.6"/>
<line x1="154.6" y1="281.5" x2="154.6" y2="332.8" stroke="#222" stroke-width="1.1"/>
<rect x="140.5" y="293.1" width="28.2" height="22.4" fill="#9aae9d"/>
<line x1="140.5" y1="300.0" x2="168.7" y2="300.0" stroke="#111" stroke-width="1.6"/>
<line x1="191.9" y1="260.3" x2="191.9" y2="322.4" stroke="#222" stroke-width="1.1"/>
<rect x="177.8" y="285.0" width="28.2" height="16.8" fill="#6a9279"/>
<line x1="177.8" y1="293.3" x2="206.0" y2="293.3" stroke="#111" stroke-width="1.6"/>
<line x1="229.2" y1="258.5" x2="229.2" y2="327.0" stroke="#222" stroke-width="1.1"/>
<rect x="215.1" y="274.6" width="28.2" height="23.8" fill="#2d6a4a"/>
<line x1="215.1" y1="286.4" x2="243.3" y2="286.4" stroke="#111" stroke-width="1.6"/>
<circle cx="80.0" cy="300.0" r="0.70" fill="#333"/>
<circle cx="80.0" cy="330.8" r="0.70" fill="#333"/>
<circle cx="191.9" cy="254.3" r="0.70" fill="#333"/>
<circle cx="191.9" cy="337.0" r="0.70" fill="#333"/>
<line x1="80.0" y1="279.5" x2="117.3" y2="279.5" stroke="#222" stroke-width="1.2"/>
<text x="98.7" y="275.7" font-size="9" text-anchor="middle">p = 0.004</text>
<line x1="80.0" y1="264.0" x2="154.6" y2="264.0" stroke="#222" stroke-width="1.2"/>
<text x="117.3" y="260.2" font-size="9" text-anchor="middle">p = 0.001</text>
<line x1="80.0" y1="249.4" x2="191.9" y2="249.4" stroke="#222" stroke-width="1.2"/>
<text x="135.9" y="245.6" font-size="9" text-anchor="middle">p = 3e-08</text>
<line x1="80.0" y1="235.6" x2="229.2" y2="235.6" stroke="#222" stroke-width="1.2"/>
<text x="154.6" y="231.8" font-size="9" text-anchor="middle">p = 4e-08</text>
<line x1="80.0" y1="360.7" x2="80.0" y2="363.8" stroke="#231f20" stroke-width="1"/>
<text x="80.0" y="376.1" font-size="9.6" text-anchor="middle">NC</text>
<text x="80.0" y="387.1" font-size="9.4" text-anchor="middle">n=15</text>
<line x1="117.3" y1="360.7" x2="117.3" y2="363.8" stroke="#231f20" stroke-width="1"/>
<text x="117.3" y="376.1" font-size="9.6" text-anchor="middle">MGUS</text>
<text x="117.3" y="387.1" font-size="9.4" text-anchor="middle">n=22</text>
<line x1="154.6" y1="360.7" x2="154.6" y2="363.8" stroke="#231f20" stroke-width="1"/>
<text x="154.6" y="376.1" font-size="9.6" text-anchor="middle">SmMM</text>
<text x="154.6" y="387.1" font-size="9.4" text-anchor="middle">n=25</text>
<line x1="191.9" y1="360.7" x2="191.9" y2="363.8" stroke="#231f20" stroke-width="1"/>
<text x="191.9" y="376.1" font-size="9.6" text-anchor="middle">NewMM</text>
<text x="191.9" y="387.1" font-size="9.4" text-anchor="middle">n=73</text>
<line x1="229.2" y1="360.7" x2="229.2" y2="363.8" stroke="#231f20" stroke-width="1"/>
<text x="229.2" y="376.1" font-size="9.6" text-anchor="middle">ReMM</text>
<text x="229.2" y="387.1" font-size="9.4" text-anchor="middle">n=28</text>
<text x="104.5" y="402.4" font-size="10.5" textLength="99.6" lengthAdjust="spacingAndGlyphs">Multiple myeloma stages</text>
<text x="27.9" y="288.2" font-size="11" text-anchor="middle" textLength="76.4" lengthAdjust="spacingAndGlyphs" transform="rotate(-90 27.9 288.2)">Enrichment Z−score</text>
<text x="276.1" y="230.2" font-size="14" fill="#000" font-weight="bold">D</text>
<text x="330.8" y="241.5" font-size="9" textLength="174.4" lengthAdjust="spacingAndGlyphs">HR 1.65; 95% CI, 1.03 to 2.62; P = 0.0344</text>
<line x1="326.3" y1="247.5" x2="326.3" y2="346.3" stroke="#231f20" stroke-width="1.5"/>
<line x1="325.6" y1="345.6" x2="508.7" y2="345.6" stroke="#231f20" stroke-width="1.5"/>
<line x1="322.3" y1="341.8" x2="326.3" y2="341.8" stroke="#231f20" stroke-width="1"/>
<text x="318.8" y="344.8" font-size="9.63" text-anchor="end" textLength="5.0" lengthAdjust="spacingAndGlyphs">0</text>
<line x1="322.3" y1="323.6" x2="326.3" y2="323.6" stroke="#231f20" stroke-width="1"/>
<text x="318.8" y="326.6" font-size="9.63" text-anchor="end" textLength="10.0" lengthAdjust="spacingAndGlyphs">20</text>
<line x1="322.3" y1="305.5" x2="326.3" y2="305.5" stroke="#231f20" stroke-width="1"/>
<text x="318.8" y="308.5" font-size="9.63" text-anchor="end" textLength="10.0" lengthAdjust="spacingAndGlyphs">40</text>
<line x1="322.3" y1="287.3" x2="326.3" y2="287.3" stroke="#231f20" stroke-width="1"/>
<text x="318.8" y="290.3" font-size="9.63" text-anchor="end" textLength="10.0" lengthAdjust="spacingAndGlyphs">60</text>
<line x1="322.3" y1="269.2" x2="326.3" y2="269.2" stroke="#231f20" stroke-width="1"/>
<text x="318.8" y="272.2" font-size="9.63" text-anchor="end" textLength="10.0" lengthAdjust="spacingAndGlyphs">80</text>
<line x1="322.3" y1="251.0" x2="326.3" y2="251.0" stroke="#231f20" stroke-width="1"/>
<text x="318.8" y="254.0" font-size="9.63" text-anchor="end" textLength="15.0" lengthAdjust="spacingAndGlyphs">100</text>
<line x1="332.7" y1="345.6" x2="332.7" y2="349.0" stroke="#231f20" stroke-width="1"/>
<text x="332.7" y="361.0" font-size="9.63" text-anchor="middle" textLength="5.0" lengthAdjust="spacingAndGlyphs">0</text>
<line x1="357.2" y1="345.6" x2="357.2" y2="349.0" stroke="#231f20" stroke-width="1"/>
<text x="357.2" y="361.0" font-size="9.63" text-anchor="middle" textLength="10.0" lengthAdjust="spacingAndGlyphs">10</text>
<line x1="381.7" y1="345.6" x2="381.7" y2="349.0" stroke="#231f20" stroke-width="1"/>
<text x="381.7" y="361.0" font-size="9.63" text-anchor="middle" textLength="10.0" lengthAdjust="spacingAndGlyphs">20</text>
<line x1="406.2" y1="345.6" x2="406.2" y2="349.0" stroke="#231f20" stroke-width="1"/>
<text x="406.2" y="361.0" font-size="9.63" text-anchor="middle" textLength="10.0" lengthAdjust="spacingAndGlyphs">30</text>
<line x1="430.7" y1="345.6" x2="430.7" y2="349.0" stroke="#231f20" stroke-width="1"/>
<text x="430.7" y="361.0" font-size="9.63" text-anchor="middle" textLength="10.0" lengthAdjust="spacingAndGlyphs">40</text>
<line x1="455.2" y1="345.6" x2="455.2" y2="349.0" stroke="#231f20" stroke-width="1"/>
<text x="455.2" y="361.0" font-size="9.63" text-anchor="middle" textLength="10.0" lengthAdjust="spacingAndGlyphs">50</text>
<line x1="479.7" y1="345.6" x2="479.7" y2="349.0" stroke="#231f20" stroke-width="1"/>
<text x="479.7" y="361.0" font-size="9.63" text-anchor="middle" textLength="10.0" lengthAdjust="spacingAndGlyphs">60</text>
<line x1="504.2" y1="345.6" x2="504.2" y2="349.0" stroke="#231f20" stroke-width="1"/>
<text x="504.2" y="361.0" font-size="9.63" text-anchor="middle" textLength="10.0" lengthAdjust="spacingAndGlyphs">70</text>
<text x="389.8" y="375.8" font-size="10.8" textLength="56.5" lengthAdjust="spacingAndGlyphs">Time (months)</text>
<text x="297.6" y="296.8" font-size="10.8" text-anchor="middle" textLength="45.5" lengthAdjust="spacingAndGlyphs" transform="rotate(-90 297.6 296.8)">Survival (%)</text>
<polyline fill="none" stroke="#b5123a" stroke-width="1.6" points="332.6,251.1 336.9,251.1 337.5,252.3 345.6,252.3 346.2,254.5 347.3,254.5 347.3,255.0 350.8,255.0 350.8,256.2 353.4,256.2 353.4,256.9 356.0,256.9 356.0,257.5 358.6,257.5 358.6,258.1 361.1,258.1 361.1,258.8 363.7,258.8 363.7,259.5 366.3,259.5 366.3,260.2 369.8,260.2 369.8,261.8 372.4,261.8 372.4,262.1 375.0,262.1 375.0,262.3 377.6,262.3 377.6,262.6 380.2,262.6 380.2,262.8 383.6,262.8 383.6,264.9 387.1,264.9 387.1,266.6 390.6,266.6 390.6,268.4 393.1,268.4 393.1,269.2 395.7,269.2 395.7,270.1 398.4,270.1 398.4,271.0 401.0,271.0 401.0,271.8 403.1,271.8 403.1,272.6 405.3,272.6 405.3,273.5 407.9,273.5 407.9,276.1 411.3,276.1 411.3,277.4 420.6,277.4 421.5,277.4 421.5,279.0 423.9,279.0 423.9,279.3 426.3,279.3 426.3,279.6 429.2,279.6 429.2,281.3 444.6,281.5 445.0,283.5 453.3,283.5 453.8,285.6 460.4,285.6 461.0,288.2 474.6,288.2 474.6,293.1 503.3,293.1"/>
<polyline fill="none" stroke="#27468a" stroke-width="1.6" stroke-dasharray="3.6 2.4" points="332.6,251.1 335.8,251.1 335.8,251.7 338.9,251.7 338.9,252.2 342.1,252.2 342.1,252.8 345.6,252.8 345.6,254.2 349.0,254.2 349.0,255.7 354.2,255.7 354.2,256.8 357.6,256.8 357.6,257.6 361.1,257.6 361.1,258.5 366.3,258.5 366.3,260.2 371.5,260.2 371.5,260.6 375.9,260.6 375.9,260.9 380.2,260.9 380.2,261.1 385.4,261.1 385.4,261.6 388.9,261.6 388.9,262.0 392.3,262.0 392.3,262.3 407.9,262.3 410.0,262.3 410.0,263.7 413.9,263.7 413.9,264.4 417.7,264.4 417.7,265.0 422.0,265.0 422.0,265.8 426.3,265.8 426.3,266.5 427.3,266.5 427.3,268.5 447.5,268.8 448.5,268.8 448.5,272.7 461.9,272.7 463.5,272.7 463.5,275.8 490.8,275.8"/>
<line x1="333.8" y1="320.2" x2="350.2" y2="320.2" stroke="#b5123a" stroke-width="1.6"/>
<line x1="333.8" y1="332.9" x2="350.6" y2="332.9" stroke="#27468a" stroke-width="1.6" stroke-dasharray="4 2.3"/>
<text x="354.0" y="322.7" font-size="9.5" textLength="35.6" lengthAdjust="spacingAndGlyphs">High Risk</text>
<text x="354.0" y="335.8" font-size="9.5" textLength="33.0" lengthAdjust="spacingAndGlyphs">Low Risk</text>
<text x="286.5" y="390.0" font-size="9" textLength="43.1" lengthAdjust="spacingAndGlyphs">No. At Risk</text>
<text x="286.5" y="403.2" font-size="9" textLength="35.7" lengthAdjust="spacingAndGlyphs">High Risk</text>
<text x="286.5" y="415.8" font-size="9" textLength="33.5" lengthAdjust="spacingAndGlyphs">Low Risk</text>
<text x="332.7" y="403.2" font-size="9.63" text-anchor="middle" textLength="15.0" lengthAdjust="spacingAndGlyphs">200</text>
<text x="332.7" y="415.8" font-size="9.63" text-anchor="middle" textLength="15.0" lengthAdjust="spacingAndGlyphs">200</text>
<text x="357.2" y="403.2" font-size="9.63" text-anchor="middle" textLength="15.0" lengthAdjust="spacingAndGlyphs">161</text>
<text x="357.2" y="415.8" font-size="9.63" text-anchor="middle" textLength="15.0" lengthAdjust="spacingAndGlyphs">148</text>
<text x="381.7" y="403.2" font-size="9.63" text-anchor="middle" textLength="14.3" lengthAdjust="spacingAndGlyphs">116</text>
<text x="381.7" y="415.8" font-size="9.63" text-anchor="middle" textLength="15.0" lengthAdjust="spacingAndGlyphs">108</text>
<text x="406.2" y="403.2" font-size="9.63" text-anchor="middle" textLength="10.0" lengthAdjust="spacingAndGlyphs">73</text>
<text x="406.2" y="415.8" font-size="9.63" text-anchor="middle" textLength="10.0" lengthAdjust="spacingAndGlyphs">71</text>
<text x="430.7" y="403.2" font-size="9.63" text-anchor="middle" textLength="10.0" lengthAdjust="spacingAndGlyphs">46</text>
<text x="430.7" y="415.8" font-size="9.63" text-anchor="middle" textLength="10.0" lengthAdjust="spacingAndGlyphs">46</text>
<text x="455.2" y="403.2" font-size="9.63" text-anchor="middle" textLength="10.0" lengthAdjust="spacingAndGlyphs">25</text>
<text x="455.2" y="415.8" font-size="9.63" text-anchor="middle" textLength="10.0" lengthAdjust="spacingAndGlyphs">23</text>
<text x="479.7" y="403.2" font-size="9.63" text-anchor="middle" textLength="5.0" lengthAdjust="spacingAndGlyphs">7</text>
<text x="479.7" y="415.8" font-size="9.63" text-anchor="middle" textLength="5.0" lengthAdjust="spacingAndGlyphs">4</text>
<text x="504.2" y="403.2" font-size="9.63" text-anchor="middle" textLength="5.0" lengthAdjust="spacingAndGlyphs">0</text>
<text x="504.2" y="415.8" font-size="9.63" text-anchor="middle" textLength="5.0" lengthAdjust="spacingAndGlyphs">0</text>
<text x="8.2" y="436.0" font-size="14" fill="#000" font-weight="bold">E</text>
<text x="237.3" y="434.4" font-size="11.2" textLength="100.5" lengthAdjust="spacingAndGlyphs">Pathway enrichment</text>
<line x1="224.3" y1="440.2" x2="224.3" y2="763.4" stroke="#231f20" stroke-width="1.5"/>
<line x1="223.6" y1="762.7" x2="351.0" y2="762.7" stroke="#231f20" stroke-width="1.5"/>
<line x1="251.6" y1="762.7" x2="251.6" y2="766.3" stroke="#231f20" stroke-width="1"/>
<text x="251.6" y="777.9" font-size="9.3" text-anchor="middle">0.15</text>
<line x1="280.1" y1="762.7" x2="280.1" y2="766.3" stroke="#231f20" stroke-width="1"/>
<text x="280.1" y="777.9" font-size="9.3" text-anchor="middle">0.20</text>
<line x1="308.6" y1="762.7" x2="308.6" y2="766.3" stroke="#231f20" stroke-width="1"/>
<text x="308.6" y="777.9" font-size="9.3" text-anchor="middle">0.25</text>
<line x1="337.1" y1="762.7" x2="337.1" y2="766.3" stroke="#231f20" stroke-width="1"/>
<text x="337.1" y="777.9" font-size="9.3" text-anchor="middle">0.30</text>
<text x="253.4" y="792.7" font-size="11.2" textLength="68.6" lengthAdjust="spacingAndGlyphs">Enrichment factor</text>
<line x1="220.8" y1="449.1" x2="224.3" y2="449.1" stroke="#231f20" stroke-width="1"/>
<text x="217.4" y="451.9" font-size="9.5" text-anchor="end" fill="#d22e4a" textLength="53.1" lengthAdjust="spacingAndGlyphs">Spliceosome</text>
<circle cx="230.0" cy="449.1" r="0.80" fill="#7ab648"/>
<line x1="220.8" y1="464.3" x2="224.3" y2="464.3" stroke="#231f20" stroke-width="1"/>
<text x="217.4" y="467.1" font-size="9.5" text-anchor="end" fill="#5ea654" textLength="69.7" lengthAdjust="spacingAndGlyphs">Yersinia infection</text>
<circle cx="311.0" cy="464.3" r="1.90" fill="#d2692a"/>
<line x1="220.8" y1="479.5" x2="224.3" y2="479.5" stroke="#231f20" stroke-width="1"/>
<text x="217.4" y="482.3" font-size="9.5" text-anchor="end" fill="#5ea654" textLength="60.0" lengthAdjust="spacingAndGlyphs">Toxoplasmosis</text>
<circle cx="303.5" cy="479.5" r="1.80" fill="#727282"/>
<line x1="220.8" y1="494.8" x2="224.3" y2="494.8" stroke="#231f20" stroke-width="1"/>
<text x="217.4" y="497.6" font-size="9.5" text-anchor="end" fill="#5ea654" textLength="137.5" lengthAdjust="spacingAndGlyphs">T cell receptor signaling pathway</text>
<circle cx="308.6" cy="494.8" r="1.60" fill="#bd9d35"/>
<line x1="220.8" y1="510.0" x2="224.3" y2="510.0" stroke="#231f20" stroke-width="1"/>
<text x="217.4" y="512.8" font-size="9.5" text-anchor="end" fill="#5ea654" textLength="43.0" lengthAdjust="spacingAndGlyphs">Shigellosis</text>
<circle cx="272.0" cy="510.0" r="2.60" fill="#bd9d35"/>
<line x1="220.8" y1="525.2" x2="224.3" y2="525.2" stroke="#231f20" stroke-width="1"/>
<text x="217.4" y="528.0" font-size="9.5" text-anchor="end" fill="#5ea654" textLength="83.5" lengthAdjust="spacingAndGlyphs">Salmonella infection</text>
<circle cx="278.2" cy="525.2" r="2.60" fill="#bd9d35"/>
<line x1="220.8" y1="540.4" x2="224.3" y2="540.4" stroke="#231f20" stroke-width="1"/>
<text x="217.4" y="543.2" font-size="9.5" text-anchor="end" fill="#5ea654" textLength="84.6" lengthAdjust="spacingAndGlyphs">Renal cell carcinoma</text>
<circle cx="339.8" cy="540.4" r="1.50" fill="#c49035"/>
<line x1="220.8" y1="555.6" x2="224.3" y2="555.6" stroke="#231f20" stroke-width="1"/>
<text x="217.4" y="558.4" font-size="9.5" text-anchor="end" fill="#5ea654" textLength="72.8" lengthAdjust="spacingAndGlyphs">Pancreatic cancer</text>
<circle cx="338.7" cy="555.6" r="1.50" fill="#c48a35"/>
<line x1="220.8" y1="570.9" x2="224.3" y2="570.9" stroke="#231f20" stroke-width="1"/>
<text x="217.4" y="573.7" font-size="9.5" text-anchor="end" fill="#5ea654" textLength="93.2" lengthAdjust="spacingAndGlyphs">p53 signaling pathway</text>
<circle cx="338.0" cy="570.9" r="1.50" fill="#c48a35"/>
<line x1="220.8" y1="586.1" x2="224.3" y2="586.1" stroke="#231f20" stroke-width="1"/>
<text x="217.4" y="588.9" font-size="9.5" text-anchor="end" fill="#5ea654" textLength="105.7" lengthAdjust="spacingAndGlyphs">Osteoclast differentiation</text>
<circle cx="317.5" cy="586.1" r="2.30" fill="#d86a2a"/>
<line x1="220.8" y1="601.3" x2="224.3" y2="601.3" stroke="#231f20" stroke-width="1"/>
<text x="217.4" y="604.1" font-size="9.5" text-anchor="end" fill="#5ea654" textLength="103.6" lengthAdjust="spacingAndGlyphs">MAPK signaling pathway</text>
<circle cx="286.0" cy="601.3" r="3.00" fill="#d42a2a"/>
<line x1="220.8" y1="616.5" x2="224.3" y2="616.5" stroke="#231f20" stroke-width="1"/>
<text x="217.4" y="619.3" font-size="9.5" text-anchor="end" fill="#5ea654" textLength="202.3" lengthAdjust="spacingAndGlyphs">Kaposi sarcoma–associated herpesvirus infection</text>
<circle cx="286.5" cy="616.5" r="2.50" fill="#c48a35"/>
<line x1="220.8" y1="631.7" x2="224.3" y2="631.7" stroke="#231f20" stroke-width="1"/>
<text x="217.4" y="634.5" font-size="9.5" text-anchor="end" fill="#5ea654" textLength="102.6" lengthAdjust="spacingAndGlyphs">Hippo signaling pathway</text>
<circle cx="289.5" cy="631.7" r="2.30" fill="#bb9e35"/>
<line x1="220.8" y1="647.0" x2="224.3" y2="647.0" stroke="#231f20" stroke-width="1"/>
<text x="217.4" y="649.8" font-size="9.5" text-anchor="end" fill="#5ea654" textLength="42.7" lengthAdjust="spacingAndGlyphs">Hepatitis B</text>
<circle cx="303.2" cy="647.0" r="2.30" fill="#d26a2a"/>
<line x1="220.8" y1="662.2" x2="224.3" y2="662.2" stroke="#231f20" stroke-width="1"/>
<text x="217.4" y="665.0" font-size="9.5" text-anchor="end" fill="#5ea654" textLength="100.2" lengthAdjust="spacingAndGlyphs">FoxO signaling pathway</text>
<circle cx="314.0" cy="662.2" r="2.10" fill="#d4682a"/>
<line x1="220.8" y1="677.4" x2="224.3" y2="677.4" stroke="#231f20" stroke-width="1"/>
<text x="217.4" y="680.2" font-size="9.5" text-anchor="end" fill="#5ea654" textLength="62.1" lengthAdjust="spacingAndGlyphs">Focal adhesion</text>
<circle cx="282.2" cy="677.4" r="2.50" fill="#bf9535"/>
<line x1="220.8" y1="692.6" x2="224.3" y2="692.6" stroke="#231f20" stroke-width="1"/>
<text x="217.4" y="695.4" font-size="9.5" text-anchor="end" fill="#5ea654" textLength="153.1" lengthAdjust="spacingAndGlyphs">Fc gamma R–mediated phagocytosis</text>
<circle cx="344.1" cy="692.6" r="1.90" fill="#d45a28"/>
<line x1="220.8" y1="707.8" x2="224.3" y2="707.8" stroke="#231f20" stroke-width="1"/>
<text x="217.4" y="710.6" font-size="9.5" text-anchor="end" fill="#5ea654" textLength="130.3" lengthAdjust="spacingAndGlyphs">Fc epsilon RI signaling pathway</text>
<circle cx="342.5" cy="707.8" r="1.40" fill="#bd9d35"/>
<line x1="220.8" y1="723.1" x2="224.3" y2="723.1" stroke="#231f20" stroke-width="1"/>
<text x="217.4" y="725.9" font-size="9.5" text-anchor="end" fill="#5ea654" textLength="72.8" lengthAdjust="spacingAndGlyphs">Colorectal cancer</text>
<circle cx="345.2" cy="723.1" r="1.80" fill="#d85a28"/>
<line x1="220.8" y1="738.3" x2="224.3" y2="738.3" stroke="#231f20" stroke-width="1"/>
<text x="217.4" y="741.1" font-size="9.5" text-anchor="end" fill="#5ea654" textLength="170.8" lengthAdjust="spacingAndGlyphs">C–type lectin receptor signaling pathway</text>
<circle cx="336.0" cy="738.3" r="1.90" fill="#d4482a"/>
<line x1="220.8" y1="753.5" x2="224.3" y2="753.5" stroke="#231f20" stroke-width="1"/>
<text x="217.4" y="756.3" font-size="9.5" text-anchor="end" fill="#5ea654" textLength="42.0" lengthAdjust="spacingAndGlyphs">Apoptosis</text>
<circle cx="296.0" cy="753.5" r="1.90" fill="#bd9d35"/>
<text x="353.6" y="530.0" font-size="8.8" textLength="55.0" lengthAdjust="spacingAndGlyphs">log10(Qvalue)</text>
<defs><linearGradient id="qg" x1="0" y1="0" x2="0" y2="1"><stop offset="0" stop-color="#7ab648"/><stop offset="0.31" stop-color="#a3b445"/><stop offset="0.48" stop-color="#b9993b"/><stop offset="0.63" stop-color="#c7803a"/><stop offset="0.78" stop-color="#d06030"/><stop offset="0.97" stop-color="#d42222"/><stop offset="1" stop-color="#d42020"/></linearGradient></defs>
<rect x="354.9" y="538.9" width="7.5" height="37.8" fill="url(#qg)"/>
<text x="365.9" y="543.0" font-size="9.2" textLength="9.0" lengthAdjust="spacingAndGlyphs">−2</text>
<text x="365.9" y="554.0" font-size="9.2" textLength="9.0" lengthAdjust="spacingAndGlyphs">−4</text>
<text x="365.9" y="565.3" font-size="9.2" textLength="9.0" lengthAdjust="spacingAndGlyphs">−6</text>
<text x="365.9" y="576.5" font-size="9.2" textLength="9.0" lengthAdjust="spacingAndGlyphs">−8</text>
<text x="369.6" y="603.4" font-size="8.6" text-anchor="middle">Gene</text>
<text x="369.6" y="613.5" font-size="8.6" text-anchor="middle" textLength="33.8" lengthAdjust="spacingAndGlyphs">numbers</text>
<circle cx="363.1" cy="624.2" r="1.50" fill="#000"/>
<text x="370.0" y="627.0" font-size="9.1" textLength="9.6" lengthAdjust="spacingAndGlyphs">20</text>
<circle cx="363.1" cy="637.0" r="2.15" fill="#000"/>
<text x="370.0" y="639.8" font-size="9.1" textLength="9.6" lengthAdjust="spacingAndGlyphs">30</text>
<circle cx="363.1" cy="650.0" r="2.60" fill="#000"/>
<text x="370.0" y="652.8" font-size="9.1" textLength="9.6" lengthAdjust="spacingAndGlyphs">40</text>
<circle cx="363.1" cy="662.8" r="3.10" fill="#000"/>
<text x="370.0" y="665.6" font-size="9.1" textLength="9.6" lengthAdjust="spacingAndGlyphs">50</text>
<circle cx="363.1" cy="675.7" r="3.40" fill="#000"/>
<text x="370.0" y="678.5" font-size="9.1" textLength="9.6" lengthAdjust="spacingAndGlyphs">60</text>
</svg></div></body></html>
